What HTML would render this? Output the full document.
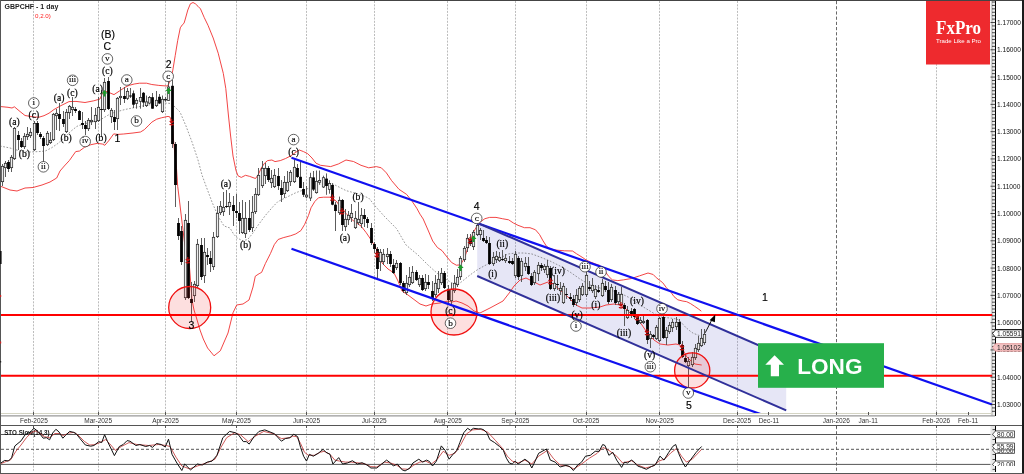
<!DOCTYPE html>
<html><head><meta charset="utf-8"><title>GBPCHF - 1 day</title>
<style>html,body{margin:0;padding:0;background:#fff;}body{width:1024px;height:474px;overflow:hidden;}svg{display:block;will-change:transform;}</style>
</head><body>
<svg width="1024" height="474" viewBox="0 0 1024 474">
<rect x="0" y="0" width="1024" height="474" fill="#fff"/>
<defs><clipPath id="cm"><rect x="1" y="1" width="991.4" height="412"/></clipPath><clipPath id="cs"><rect x="1" y="426" width="994" height="46"/></clipPath><clipPath id="cl"><rect x="990" y="426" width="34" height="40"/></clipPath></defs>
<line x1="33.5" y1="1" x2="33.5" y2="413" stroke="#bcbcbc" stroke-dasharray="2,1.3" stroke-width="1"/>
<line x1="33.5" y1="426" x2="33.5" y2="472" stroke="#bcbcbc" stroke-dasharray="2,1.3" stroke-width="1"/>
<line x1="98.5" y1="1" x2="98.5" y2="413" stroke="#bcbcbc" stroke-dasharray="2,1.3" stroke-width="1"/>
<line x1="98.5" y1="426" x2="98.5" y2="472" stroke="#bcbcbc" stroke-dasharray="2,1.3" stroke-width="1"/>
<line x1="165.5" y1="1" x2="165.5" y2="413" stroke="#bcbcbc" stroke-dasharray="2,1.3" stroke-width="1"/>
<line x1="165.5" y1="426" x2="165.5" y2="472" stroke="#bcbcbc" stroke-dasharray="2,1.3" stroke-width="1"/>
<line x1="236.5" y1="1" x2="236.5" y2="413" stroke="#bcbcbc" stroke-dasharray="2,1.3" stroke-width="1"/>
<line x1="236.5" y1="426" x2="236.5" y2="472" stroke="#bcbcbc" stroke-dasharray="2,1.3" stroke-width="1"/>
<line x1="306.5" y1="1" x2="306.5" y2="413" stroke="#bcbcbc" stroke-dasharray="2,1.3" stroke-width="1"/>
<line x1="306.5" y1="426" x2="306.5" y2="472" stroke="#bcbcbc" stroke-dasharray="2,1.3" stroke-width="1"/>
<line x1="374.5" y1="1" x2="374.5" y2="413" stroke="#bcbcbc" stroke-dasharray="2,1.3" stroke-width="1"/>
<line x1="374.5" y1="426" x2="374.5" y2="472" stroke="#bcbcbc" stroke-dasharray="2,1.3" stroke-width="1"/>
<line x1="447.5" y1="1" x2="447.5" y2="413" stroke="#bcbcbc" stroke-dasharray="2,1.3" stroke-width="1"/>
<line x1="447.5" y1="426" x2="447.5" y2="472" stroke="#bcbcbc" stroke-dasharray="2,1.3" stroke-width="1"/>
<line x1="515.5" y1="1" x2="515.5" y2="413" stroke="#bcbcbc" stroke-dasharray="2,1.3" stroke-width="1"/>
<line x1="515.5" y1="426" x2="515.5" y2="472" stroke="#bcbcbc" stroke-dasharray="2,1.3" stroke-width="1"/>
<line x1="586.5" y1="1" x2="586.5" y2="413" stroke="#bcbcbc" stroke-dasharray="2,1.3" stroke-width="1"/>
<line x1="586.5" y1="426" x2="586.5" y2="472" stroke="#bcbcbc" stroke-dasharray="2,1.3" stroke-width="1"/>
<line x1="659.5" y1="1" x2="659.5" y2="413" stroke="#bcbcbc" stroke-dasharray="2,1.3" stroke-width="1"/>
<line x1="659.5" y1="426" x2="659.5" y2="472" stroke="#bcbcbc" stroke-dasharray="2,1.3" stroke-width="1"/>
<line x1="737.5" y1="1" x2="737.5" y2="413" stroke="#bcbcbc" stroke-dasharray="2,1.3" stroke-width="1"/>
<line x1="737.5" y1="426" x2="737.5" y2="472" stroke="#bcbcbc" stroke-dasharray="2,1.3" stroke-width="1"/>
<line x1="836.5" y1="1" x2="836.5" y2="413" stroke="#6a6a6a" stroke-dasharray="3.2,2" stroke-width="1"/>
<line x1="836.5" y1="426" x2="836.5" y2="472" stroke="#6a6a6a" stroke-dasharray="3.2,2" stroke-width="1"/>
<line x1="936.5" y1="1" x2="936.5" y2="413" stroke="#bcbcbc" stroke-dasharray="2,1.3" stroke-width="1"/>
<line x1="936.5" y1="426" x2="936.5" y2="472" stroke="#bcbcbc" stroke-dasharray="2,1.3" stroke-width="1"/>
<rect x="990.5" y="1" width="4.5" height="415" fill="#f0f0f0"/>
<line x1="992" y1="1" x2="992" y2="416" stroke="#999" stroke-width="0.8"/>
<g clip-path="url(#cm)">
<polygon points="477.2,222.8 786.2,357.2 786.2,410.4 477.2,276.0" fill="rgba(100,100,200,0.16)"/>
<polyline points="0.0,106.5 8.0,107.3 12.0,108.0 14.4,106.8 20.0,111.5 25.0,115.5 34.0,117.0 39.0,117.2 44.0,115.7 49.0,113.2 54.0,109.5 61.0,105.6 69.0,101.6 76.0,101.4 85.0,102.5 93.8,100.8 100.0,99.0 102.6,92.8 105.2,91.1 108.7,92.4 114.0,94.6 119.3,91.1 124.5,87.6 129.0,85.4 134.2,84.0 139.5,83.2 146.5,83.2 151.8,84.5 158.8,85.4 164.0,85.8 167.6,86.0 170.0,81.0 172.7,70.9 175.2,55.7 177.7,40.5 180.3,27.8 182.3,24.8 184.0,23.3 185.3,19.0 187.8,10.0 190.4,3.8 193.0,2.5 195.4,3.8 198.0,6.3 200.5,8.9 204.3,17.7 208.0,25.3 213.2,38.0 218.2,53.2 223.3,73.4 225.8,88.6 228.4,115.0 230.5,135.0 233.0,156.0 236.0,170.6 238.1,175.9 241.3,177.4 245.5,175.3 249.7,176.4 255.5,178.5 258.2,174.8 261.3,168.0 264.5,163.2 267.6,160.6 271.9,160.0 275.0,161.6 280.3,160.6 285.6,158.5 290.9,155.8 295.1,152.7 299.3,150.0 303.5,151.6 307.7,153.7 312.0,158.0 316.0,163.2 320.6,165.3 330.7,166.6 338.3,164.0 346.0,160.0 353.5,161.5 361.0,165.3 368.7,167.8 376.3,166.6 381.3,167.8 386.4,172.9 391.5,180.5 399.0,189.3 406.6,194.4 411.7,200.7 416.8,208.3 420.0,214.2 423.2,219.0 428.0,230.0 432.7,241.0 437.4,247.5 442.0,250.6 447.0,257.0 451.6,262.5 456.4,265.2 460.3,264.9 464.3,258.5 467.5,249.0 470.6,239.6 473.8,231.6 477.0,226.0 481.0,221.4 484.9,218.7 489.6,217.4 496.0,217.4 502.3,218.7 508.6,219.8 513.4,223.0 518.0,225.3 524.4,227.7 530.0,227.7 535.5,229.8 539.6,234.6 543.0,240.8 546.5,246.3 550.6,249.0 556.0,250.1 564.3,250.8 572.5,251.0 576.6,253.8 582.1,257.2 586.2,260.0 590.4,262.0 595.8,264.1 600.0,265.5 604.0,269.6 608.2,275.8 612.3,279.9 617.8,280.6 623.3,279.9 631.5,278.5 639.7,275.8 648.0,273.0 653.2,274.5 656.3,277.7 659.5,280.2 662.7,282.7 666.5,287.8 670.9,292.2 674.0,296.6 677.8,299.8 682.9,301.1 686.7,301.7 690.5,303.6 694.3,306.1 698.1,308.7 701.3,311.2" fill="none" stroke="#f03030" stroke-width="0.9"/>
<polyline points="0.0,186.0 5.0,188.0 10.0,190.0 17.0,191.0 25.0,188.0 33.0,187.5 42.0,185.0 50.0,182.0 56.7,178.0 60.0,171.0 64.3,166.0 69.4,160.5 75.7,151.6 79.5,151.0 84.6,147.2 90.9,144.7 97.2,143.4 102.3,144.0 104.8,145.3 108.6,140.9 113.7,133.9 117.8,134.4 123.5,134.0 133.0,133.0 140.5,132.0 144.3,129.7 148.1,125.9 151.9,122.1 156.7,119.2 161.4,117.8 168.0,116.4 170.0,117.0 170.8,120.0 171.4,124.3 172.7,130.6 174.0,145.8 175.2,156.0 176.5,168.6 177.7,186.3 179.4,200.0 182.0,222.0 184.7,244.0 187.0,254.0 189.0,261.0 190.5,280.0 192.0,300.0 194.0,310.0 196.5,318.0 200.0,330.0 203.3,339.0 207.6,348.0 214.0,355.8 220.3,350.8 228.0,333.0 233.0,312.8 236.7,305.0 243.0,304.0 249.0,300.0 253.0,287.0 255.3,276.2 259.1,273.7 261.6,272.4 265.4,263.5 270.5,253.4 274.3,244.6 278.1,239.5 283.2,237.7 290.8,235.7 295.8,233.9 300.9,230.6 304.7,224.3 308.5,215.4 311.0,207.8 314.8,201.5 318.6,197.7 323.7,197.2 330.0,197.2 335.8,200.7 340.8,207.0 346.0,213.4 353.5,221.0 361.0,226.0 366.0,232.4 371.2,240.0 376.3,248.8 381.3,257.7 382.0,263.0 388.0,269.0 394.0,273.0 398.0,281.0 402.0,291.0 408.0,295.0 416.0,301.0 420.0,304.0 426.0,306.0 432.0,304.0 440.0,303.0 448.0,301.0 452.0,302.0 456.0,301.0 462.0,303.0 468.0,306.0 474.0,311.0 480.0,313.0 490.0,308.0 503.0,301.0 510.0,292.0 514.0,286.0 520.0,280.0 526.0,278.0 534.0,282.0 540.0,285.0 548.0,282.0 552.0,283.0 560.0,290.0 568.0,297.0 576.0,305.0 582.0,308.0 590.0,308.0 600.0,307.0 606.0,305.0 614.0,304.0 620.0,305.0 626.0,309.0 630.0,313.0 636.0,317.0 642.0,325.0 648.0,334.0 654.0,340.0 660.0,344.0 668.0,345.0 676.0,344.0 680.0,345.0 683.0,350.0 686.7,356.7 690.0,360.0 695.0,364.0 701.7,365.0" fill="none" stroke="#f03030" stroke-width="0.9"/>
<polyline points="0.0,146.0 10.0,148.0 20.0,151.0 30.0,152.0 40.0,151.5 45.3,151.0 51.6,147.8 58.0,143.4 64.3,137.7 70.6,131.4 77.0,126.3 82.0,124.4 92.0,122.0 100.0,120.0 104.5,117.3 109.2,114.5 114.0,112.6 118.7,111.2 125.0,109.5 135.0,107.5 145.0,105.5 155.0,104.0 165.0,103.0 171.0,103.5 175.0,107.0 180.0,112.0 186.0,126.0 192.0,142.0 198.0,160.0 202.0,175.0 206.0,186.0 212.0,202.0 218.0,216.0 224.0,226.0 230.0,228.0 233.8,234.4 237.6,238.2 242.7,240.8 247.7,239.5 252.8,233.2 257.8,225.6 265.4,215.4 273.0,206.6 278.0,201.5 285.7,197.7 295.8,192.7 303.4,190.0 311.0,187.6 318.6,185.0 320.6,184.0 333.0,184.0 346.0,190.6 358.6,194.0 368.7,198.0 376.0,207.0 384.0,216.0 396.5,228.6 406.0,245.0 418.0,255.0 428.0,265.0 438.0,274.0 444.0,278.0 452.0,283.0 460.0,283.0 470.0,275.0 477.0,270.0 484.0,266.0 492.0,262.0 500.0,258.0 508.0,254.0 516.0,253.0 524.0,253.0 532.0,254.0 540.0,257.0 550.0,261.0 560.0,266.0 570.0,272.0 580.0,279.0 590.0,285.0 600.0,288.0 610.0,290.0 620.0,293.0 630.0,298.0 640.0,305.0 650.0,311.0 660.0,317.0 665.0,317.5 670.0,318.0 676.7,319.0 680.0,321.0 685.0,326.7 690.0,331.0 693.3,333.3 700.0,335.8" fill="none" stroke="#555" stroke-width="0.6" stroke-dasharray="1.7,1.6"/>
<line x1="2.5" y1="164.0" x2="2.5" y2="186.0" stroke="#4a4a4a" stroke-width="0.9"/>
<rect x="1.3" y="166.3" width="2.4" height="15.4" fill="#ececec" stroke="#222" stroke-width="0.7"/>
<line x1="5.5" y1="161.0" x2="5.5" y2="177.0" stroke="#4a4a4a" stroke-width="0.9"/>
<rect x="4.3" y="163.3" width="2.4" height="4.4" fill="#ececec" stroke="#222" stroke-width="0.7"/>
<line x1="8.5" y1="160.0" x2="8.5" y2="172.0" stroke="#4a4a4a" stroke-width="0.9"/>
<rect x="7.1" y="162.0" width="2.8" height="7.0" fill="#000"/>
<line x1="11.5" y1="155.0" x2="11.5" y2="172.0" stroke="#4a4a4a" stroke-width="0.9"/>
<rect x="10.3" y="157.3" width="2.4" height="10.4" fill="#ececec" stroke="#222" stroke-width="0.7"/>
<line x1="14.5" y1="127.0" x2="14.5" y2="160.0" stroke="#4a4a4a" stroke-width="0.9"/>
<rect x="13.3" y="128.3" width="2.4" height="30.4" fill="#ececec" stroke="#222" stroke-width="0.7"/>
<line x1="18.5" y1="131.0" x2="18.5" y2="150.0" stroke="#4a4a4a" stroke-width="0.9"/>
<rect x="17.1" y="135.0" width="2.8" height="5.0" fill="#000"/>
<line x1="21.5" y1="138.0" x2="21.5" y2="148.0" stroke="#4a4a4a" stroke-width="0.9"/>
<rect x="20.1" y="141.0" width="2.8" height="6.0" fill="#000"/>
<line x1="24.5" y1="133.0" x2="24.5" y2="149.0" stroke="#4a4a4a" stroke-width="0.9"/>
<rect x="23.3" y="136.3" width="2.4" height="10.4" fill="#ececec" stroke="#222" stroke-width="0.7"/>
<line x1="27.5" y1="127.0" x2="27.5" y2="140.0" stroke="#4a4a4a" stroke-width="0.9"/>
<rect x="26.3" y="134.3" width="2.4" height="2.4" fill="#ececec" stroke="#222" stroke-width="0.7"/>
<line x1="30.5" y1="128.0" x2="30.5" y2="138.0" stroke="#4a4a4a" stroke-width="0.9"/>
<rect x="29.3" y="132.3" width="2.4" height="3.4" fill="#ececec" stroke="#222" stroke-width="0.7"/>
<line x1="34.5" y1="121.0" x2="34.5" y2="151.0" stroke="#4a4a4a" stroke-width="0.9"/>
<rect x="33.3" y="123.3" width="2.4" height="26.4" fill="#ececec" stroke="#222" stroke-width="0.7"/>
<line x1="37.5" y1="121.0" x2="37.5" y2="135.0" stroke="#4a4a4a" stroke-width="0.9"/>
<rect x="36.1" y="123.0" width="2.8" height="10.0" fill="#000"/>
<line x1="40.5" y1="132.0" x2="40.5" y2="139.0" stroke="#4a4a4a" stroke-width="0.9"/>
<rect x="39.1" y="134.0" width="2.8" height="3.0" fill="#000"/>
<line x1="43.5" y1="136.0" x2="43.5" y2="163.0" stroke="#4a4a4a" stroke-width="0.9"/>
<rect x="42.1" y="138.0" width="2.8" height="8.0" fill="#000"/>
<line x1="47.5" y1="131.0" x2="47.5" y2="146.0" stroke="#4a4a4a" stroke-width="0.9"/>
<rect x="46.3" y="133.3" width="2.4" height="11.4" fill="#ececec" stroke="#222" stroke-width="0.7"/>
<line x1="50.5" y1="132.0" x2="50.5" y2="144.0" stroke="#4a4a4a" stroke-width="0.9"/>
<rect x="49.3" y="140.3" width="2.4" height="2.4" fill="#ececec" stroke="#222" stroke-width="0.7"/>
<line x1="53.5" y1="113.0" x2="53.5" y2="141.0" stroke="#4a4a4a" stroke-width="0.9"/>
<rect x="52.3" y="114.3" width="2.4" height="25.4" fill="#ececec" stroke="#222" stroke-width="0.7"/>
<line x1="56.5" y1="109.0" x2="56.5" y2="130.0" stroke="#4a4a4a" stroke-width="0.9"/>
<rect x="55.3" y="113.3" width="2.4" height="2.4" fill="#ececec" stroke="#222" stroke-width="0.7"/>
<line x1="59.5" y1="103.0" x2="59.5" y2="131.0" stroke="#4a4a4a" stroke-width="0.9"/>
<rect x="58.1" y="114.0" width="2.8" height="5.0" fill="#000"/>
<line x1="63.5" y1="111.0" x2="63.5" y2="127.0" stroke="#4a4a4a" stroke-width="0.9"/>
<rect x="62.1" y="119.0" width="2.8" height="5.0" fill="#000"/>
<line x1="66.5" y1="109.0" x2="66.5" y2="133.0" stroke="#4a4a4a" stroke-width="0.9"/>
<rect x="65.3" y="112.3" width="2.4" height="19.4" fill="#ececec" stroke="#222" stroke-width="0.7"/>
<line x1="69.5" y1="105.0" x2="69.5" y2="119.0" stroke="#4a4a4a" stroke-width="0.9"/>
<rect x="68.3" y="106.3" width="2.4" height="6.4" fill="#ececec" stroke="#222" stroke-width="0.7"/>
<line x1="72.5" y1="97.0" x2="72.5" y2="116.0" stroke="#4a4a4a" stroke-width="0.9"/>
<rect x="71.3" y="107.3" width="2.4" height="2.4" fill="#ececec" stroke="#222" stroke-width="0.7"/>
<line x1="75.5" y1="107.0" x2="75.5" y2="113.0" stroke="#4a4a4a" stroke-width="0.9"/>
<rect x="74.1" y="109.0" width="2.8" height="2.0" fill="#000"/>
<line x1="79.5" y1="110.0" x2="79.5" y2="120.0" stroke="#4a4a4a" stroke-width="0.9"/>
<rect x="78.1" y="111.0" width="2.8" height="9.0" fill="#000"/>
<line x1="82.5" y1="112.0" x2="82.5" y2="129.0" stroke="#4a4a4a" stroke-width="0.9"/>
<rect x="81.1" y="123.0" width="2.8" height="2.0" fill="#000"/>
<line x1="85.5" y1="121.0" x2="85.5" y2="135.0" stroke="#4a4a4a" stroke-width="0.9"/>
<rect x="84.1" y="125.0" width="2.8" height="4.0" fill="#000"/>
<line x1="88.5" y1="118.0" x2="88.5" y2="131.0" stroke="#4a4a4a" stroke-width="0.9"/>
<rect x="87.3" y="120.3" width="2.4" height="8.4" fill="#ececec" stroke="#222" stroke-width="0.7"/>
<line x1="91.5" y1="107.0" x2="91.5" y2="125.0" stroke="#4a4a4a" stroke-width="0.9"/>
<rect x="90.3" y="120.3" width="2.4" height="1.4" fill="#ececec" stroke="#222" stroke-width="0.7"/>
<line x1="95.5" y1="108.0" x2="95.5" y2="129.0" stroke="#4a4a4a" stroke-width="0.9"/>
<rect x="94.3" y="115.3" width="2.4" height="6.4" fill="#ececec" stroke="#222" stroke-width="0.7"/>
<line x1="98.5" y1="97.0" x2="98.5" y2="122.0" stroke="#4a4a4a" stroke-width="0.9"/>
<rect x="97.3" y="107.3" width="2.4" height="13.4" fill="#ececec" stroke="#222" stroke-width="0.7"/>
<line x1="101.5" y1="90.0" x2="101.5" y2="137.0" stroke="#4a4a4a" stroke-width="0.9"/>
<rect x="100.1" y="109.0" width="2.8" height="1.0" fill="#000"/>
<line x1="104.5" y1="78.0" x2="104.5" y2="112.0" stroke="#4a4a4a" stroke-width="0.9"/>
<rect x="103.3" y="82.3" width="2.4" height="27.4" fill="#ececec" stroke="#222" stroke-width="0.7"/>
<line x1="108.5" y1="77.0" x2="108.5" y2="110.0" stroke="#4a4a4a" stroke-width="0.9"/>
<rect x="107.1" y="81.0" width="2.8" height="28.0" fill="#000"/>
<line x1="111.5" y1="108.0" x2="111.5" y2="123.0" stroke="#4a4a4a" stroke-width="0.9"/>
<rect x="110.3" y="110.3" width="2.4" height="6.4" fill="#ececec" stroke="#222" stroke-width="0.7"/>
<line x1="114.5" y1="110.0" x2="114.5" y2="130.0" stroke="#4a4a4a" stroke-width="0.9"/>
<rect x="113.1" y="117.0" width="2.8" height="5.0" fill="#000"/>
<line x1="117.5" y1="97.0" x2="117.5" y2="130.0" stroke="#4a4a4a" stroke-width="0.9"/>
<rect x="116.3" y="98.3" width="2.4" height="20.4" fill="#ececec" stroke="#222" stroke-width="0.7"/>
<line x1="120.5" y1="87.0" x2="120.5" y2="105.0" stroke="#4a4a4a" stroke-width="0.9"/>
<rect x="119.3" y="96.3" width="2.4" height="1.4" fill="#ececec" stroke="#222" stroke-width="0.7"/>
<line x1="124.5" y1="87.0" x2="124.5" y2="103.0" stroke="#4a4a4a" stroke-width="0.9"/>
<rect x="123.1" y="96.0" width="2.8" height="3.0" fill="#000"/>
<line x1="127.5" y1="88.0" x2="127.5" y2="100.0" stroke="#4a4a4a" stroke-width="0.9"/>
<rect x="126.3" y="91.3" width="2.4" height="6.999999999999995" fill="#ececec" stroke="#222" stroke-width="0.7"/>
<line x1="130.5" y1="88.0" x2="130.5" y2="98.0" stroke="#4a4a4a" stroke-width="0.9"/>
<rect x="129.1" y="95.5" width="2.8" height="1.0" fill="#000"/>
<line x1="133.5" y1="90.5" x2="133.5" y2="108.0" stroke="#4a4a4a" stroke-width="0.9"/>
<rect x="132.1" y="93.3" width="2.8" height="11.400000000000006" fill="#000"/>
<line x1="136.5" y1="98.0" x2="136.5" y2="108.7" stroke="#4a4a4a" stroke-width="0.9"/>
<rect x="135.3" y="100.3" width="2.4" height="3.199999999999997" fill="#ececec" stroke="#222" stroke-width="0.7"/>
<line x1="140.5" y1="88.0" x2="140.5" y2="108.7" stroke="#4a4a4a" stroke-width="0.9"/>
<rect x="139.3" y="97.5" width="2.4" height="3.7999999999999914" fill="#ececec" stroke="#222" stroke-width="0.7"/>
<line x1="143.5" y1="92.0" x2="143.5" y2="107.0" stroke="#4a4a4a" stroke-width="0.9"/>
<rect x="142.1" y="92.8" width="2.8" height="9.700000000000003" fill="#000"/>
<line x1="146.5" y1="95.5" x2="146.5" y2="107.0" stroke="#4a4a4a" stroke-width="0.9"/>
<rect x="145.3" y="101.89999999999999" width="2.4" height="3.8000000000000056" fill="#ececec" stroke="#222" stroke-width="0.7"/>
<line x1="149.5" y1="96.0" x2="149.5" y2="104.0" stroke="#4a4a4a" stroke-width="0.9"/>
<rect x="148.3" y="97.5" width="2.4" height="5.600000000000003" fill="#ececec" stroke="#222" stroke-width="0.7"/>
<line x1="152.5" y1="93.0" x2="152.5" y2="108.7" stroke="#4a4a4a" stroke-width="0.9"/>
<rect x="151.1" y="97.2" width="2.8" height="11.5" fill="#000"/>
<line x1="156.5" y1="91.0" x2="156.5" y2="107.0" stroke="#4a4a4a" stroke-width="0.9"/>
<rect x="155.3" y="100.3" width="2.4" height="5.4" fill="#ececec" stroke="#222" stroke-width="0.7"/>
<line x1="159.5" y1="94.0" x2="159.5" y2="104.0" stroke="#4a4a4a" stroke-width="0.9"/>
<rect x="158.1" y="96.8" width="2.8" height="6.6000000000000085" fill="#000"/>
<line x1="162.5" y1="95.5" x2="162.5" y2="113.0" stroke="#4a4a4a" stroke-width="0.9"/>
<rect x="161.3" y="99.3" width="2.4" height="12.4" fill="#ececec" stroke="#222" stroke-width="0.7"/>
<line x1="165.5" y1="97.0" x2="165.5" y2="101.6" stroke="#4a4a4a" stroke-width="0.9"/>
<rect x="164.3" y="99.3" width="2.4" height="0.6999999999999972" fill="#ececec" stroke="#222" stroke-width="0.7"/>
<line x1="168.5" y1="80.5" x2="168.5" y2="101.0" stroke="#4a4a4a" stroke-width="0.9"/>
<rect x="167.3" y="87.0" width="2.4" height="13.499999999999995" fill="#ececec" stroke="#222" stroke-width="0.7"/>
<line x1="172.5" y1="80.0" x2="172.5" y2="148.0" stroke="#4a4a4a" stroke-width="0.9"/>
<rect x="171.1" y="85.8" width="2.8" height="58.2" fill="#000"/>
<line x1="175.5" y1="142.0" x2="175.5" y2="207.0" stroke="#4a4a4a" stroke-width="0.9"/>
<rect x="174.1" y="144.0" width="2.8" height="41.0" fill="#000"/>
<line x1="178.5" y1="218.0" x2="178.5" y2="240.0" stroke="#4a4a4a" stroke-width="0.9"/>
<rect x="177.1" y="223.0" width="2.8" height="13.0" fill="#000"/>
<line x1="181.5" y1="226.0" x2="181.5" y2="265.0" stroke="#4a4a4a" stroke-width="0.9"/>
<rect x="180.1" y="231.0" width="2.8" height="31.0" fill="#000"/>
<line x1="185.5" y1="214.0" x2="185.5" y2="300.0" stroke="#4a4a4a" stroke-width="0.9"/>
<rect x="184.3" y="220.3" width="2.4" height="77.4" fill="#ececec" stroke="#222" stroke-width="0.7"/>
<line x1="188.5" y1="201.0" x2="188.5" y2="299.0" stroke="#4a4a4a" stroke-width="0.9"/>
<rect x="187.1" y="223.0" width="2.8" height="75.0" fill="#000"/>
<line x1="191.5" y1="282.0" x2="191.5" y2="322.0" stroke="#4a4a4a" stroke-width="0.9"/>
<rect x="190.1" y="299.0" width="2.8" height="4.0" fill="#000"/>
<line x1="194.5" y1="281.0" x2="194.5" y2="302.0" stroke="#4a4a4a" stroke-width="0.9"/>
<rect x="193.3" y="284.3" width="2.4" height="11.4" fill="#ececec" stroke="#222" stroke-width="0.7"/>
<line x1="197.5" y1="239.0" x2="197.5" y2="288.0" stroke="#4a4a4a" stroke-width="0.9"/>
<rect x="196.3" y="244.3" width="2.4" height="41.4" fill="#ececec" stroke="#222" stroke-width="0.7"/>
<line x1="201.5" y1="238.0" x2="201.5" y2="280.0" stroke="#4a4a4a" stroke-width="0.9"/>
<rect x="200.1" y="245.0" width="2.8" height="32.0" fill="#000"/>
<line x1="204.5" y1="238.0" x2="204.5" y2="283.0" stroke="#4a4a4a" stroke-width="0.9"/>
<rect x="203.3" y="252.3" width="2.4" height="23.4" fill="#ececec" stroke="#222" stroke-width="0.7"/>
<line x1="207.5" y1="248.0" x2="207.5" y2="265.0" stroke="#4a4a4a" stroke-width="0.9"/>
<rect x="206.1" y="255.0" width="2.8" height="2.0" fill="#000"/>
<line x1="210.5" y1="251.0" x2="210.5" y2="272.0" stroke="#4a4a4a" stroke-width="0.9"/>
<rect x="209.1" y="258.0" width="2.8" height="6.0" fill="#000"/>
<line x1="213.5" y1="232.0" x2="213.5" y2="270.0" stroke="#4a4a4a" stroke-width="0.9"/>
<rect x="212.3" y="237.3" width="2.4" height="29.4" fill="#ececec" stroke="#222" stroke-width="0.7"/>
<line x1="217.5" y1="206.0" x2="217.5" y2="238.0" stroke="#4a4a4a" stroke-width="0.9"/>
<rect x="216.3" y="213.3" width="2.4" height="23.4" fill="#ececec" stroke="#222" stroke-width="0.7"/>
<line x1="220.5" y1="201.0" x2="220.5" y2="215.0" stroke="#4a4a4a" stroke-width="0.9"/>
<rect x="219.3" y="206.3" width="2.4" height="6.4" fill="#ececec" stroke="#222" stroke-width="0.7"/>
<line x1="223.5" y1="192.0" x2="223.5" y2="216.0" stroke="#4a4a4a" stroke-width="0.9"/>
<rect x="222.3" y="207.3" width="2.4" height="4.4" fill="#ececec" stroke="#222" stroke-width="0.7"/>
<line x1="226.5" y1="190.0" x2="226.5" y2="208.0" stroke="#4a4a4a" stroke-width="0.9"/>
<rect x="225.1" y="206.0" width="2.8" height="1.0" fill="#000"/>
<line x1="229.5" y1="193.0" x2="229.5" y2="215.0" stroke="#4a4a4a" stroke-width="0.9"/>
<rect x="228.3" y="202.3" width="2.4" height="4.4" fill="#ececec" stroke="#222" stroke-width="0.7"/>
<line x1="233.5" y1="196.0" x2="233.5" y2="226.0" stroke="#4a4a4a" stroke-width="0.9"/>
<rect x="232.1" y="205.0" width="2.8" height="6.0" fill="#000"/>
<line x1="236.5" y1="194.0" x2="236.5" y2="218.0" stroke="#4a4a4a" stroke-width="0.9"/>
<rect x="235.1" y="211.0" width="2.8" height="2.0" fill="#000"/>
<line x1="239.5" y1="202.0" x2="239.5" y2="234.0" stroke="#4a4a4a" stroke-width="0.9"/>
<rect x="238.1" y="213.0" width="2.8" height="8.0" fill="#000"/>
<line x1="242.5" y1="200.0" x2="242.5" y2="234.0" stroke="#4a4a4a" stroke-width="0.9"/>
<rect x="241.3" y="218.3" width="2.4" height="14.4" fill="#ececec" stroke="#222" stroke-width="0.7"/>
<line x1="245.5" y1="202.0" x2="245.5" y2="238.0" stroke="#4a4a4a" stroke-width="0.9"/>
<rect x="244.3" y="218.3" width="2.4" height="15.4" fill="#ececec" stroke="#222" stroke-width="0.7"/>
<line x1="249.5" y1="200.0" x2="249.5" y2="232.0" stroke="#4a4a4a" stroke-width="0.9"/>
<rect x="248.1" y="218.0" width="2.8" height="12.0" fill="#000"/>
<line x1="252.5" y1="196.0" x2="252.5" y2="232.0" stroke="#4a4a4a" stroke-width="0.9"/>
<rect x="251.3" y="212.3" width="2.4" height="15.4" fill="#ececec" stroke="#222" stroke-width="0.7"/>
<line x1="255.5" y1="188.0" x2="255.5" y2="214.0" stroke="#4a4a4a" stroke-width="0.9"/>
<rect x="254.3" y="194.3" width="2.4" height="17.4" fill="#ececec" stroke="#222" stroke-width="0.7"/>
<line x1="258.5" y1="168.0" x2="258.5" y2="196.0" stroke="#4a4a4a" stroke-width="0.9"/>
<rect x="257.3" y="175.3" width="2.4" height="19.4" fill="#ececec" stroke="#222" stroke-width="0.7"/>
<line x1="262.5" y1="161.0" x2="262.5" y2="188.0" stroke="#4a4a4a" stroke-width="0.9"/>
<rect x="261.3" y="168.3" width="2.4" height="17.4" fill="#ececec" stroke="#222" stroke-width="0.7"/>
<line x1="265.5" y1="163.0" x2="265.5" y2="184.0" stroke="#4a4a4a" stroke-width="0.9"/>
<rect x="264.3" y="168.3" width="2.4" height="7.4" fill="#ececec" stroke="#222" stroke-width="0.7"/>
<line x1="268.5" y1="166.0" x2="268.5" y2="182.0" stroke="#4a4a4a" stroke-width="0.9"/>
<rect x="267.1" y="168.0" width="2.8" height="12.0" fill="#000"/>
<line x1="271.5" y1="170.0" x2="271.5" y2="188.0" stroke="#4a4a4a" stroke-width="0.9"/>
<rect x="270.3" y="178.3" width="2.4" height="4.4" fill="#ececec" stroke="#222" stroke-width="0.7"/>
<line x1="274.5" y1="169.0" x2="274.5" y2="188.0" stroke="#4a4a4a" stroke-width="0.9"/>
<rect x="273.3" y="175.3" width="2.4" height="11.4" fill="#ececec" stroke="#222" stroke-width="0.7"/>
<line x1="278.5" y1="168.0" x2="278.5" y2="190.0" stroke="#4a4a4a" stroke-width="0.9"/>
<rect x="277.1" y="176.0" width="2.8" height="10.0" fill="#000"/>
<line x1="281.5" y1="180.0" x2="281.5" y2="202.0" stroke="#4a4a4a" stroke-width="0.9"/>
<rect x="280.1" y="188.0" width="2.8" height="7.0" fill="#000"/>
<line x1="284.5" y1="176.0" x2="284.5" y2="198.0" stroke="#4a4a4a" stroke-width="0.9"/>
<rect x="283.3" y="182.3" width="2.4" height="11.4" fill="#ececec" stroke="#222" stroke-width="0.7"/>
<line x1="287.5" y1="171.0" x2="287.5" y2="192.0" stroke="#4a4a4a" stroke-width="0.9"/>
<rect x="286.3" y="182.3" width="2.4" height="8.4" fill="#ececec" stroke="#222" stroke-width="0.7"/>
<line x1="290.5" y1="170.0" x2="290.5" y2="186.0" stroke="#4a4a4a" stroke-width="0.9"/>
<rect x="289.3" y="172.3" width="2.4" height="9.4" fill="#ececec" stroke="#222" stroke-width="0.7"/>
<line x1="294.5" y1="160.0" x2="294.5" y2="183.0" stroke="#4a4a4a" stroke-width="0.9"/>
<rect x="293.3" y="167.3" width="2.4" height="14.4" fill="#ececec" stroke="#222" stroke-width="0.7"/>
<line x1="297.5" y1="164.0" x2="297.5" y2="178.0" stroke="#4a4a4a" stroke-width="0.9"/>
<rect x="296.1" y="168.0" width="2.8" height="9.0" fill="#000"/>
<line x1="300.5" y1="161.7" x2="300.5" y2="188.0" stroke="#4a4a4a" stroke-width="0.9"/>
<rect x="299.1" y="176.8" width="2.8" height="11.199999999999989" fill="#000"/>
<line x1="303.5" y1="182.0" x2="303.5" y2="197.0" stroke="#4a4a4a" stroke-width="0.9"/>
<rect x="302.1" y="189.0" width="2.8" height="5.800000000000011" fill="#000"/>
<line x1="306.5" y1="186.0" x2="306.5" y2="198.3" stroke="#4a4a4a" stroke-width="0.9"/>
<rect x="305.3" y="195.10000000000002" width="2.4" height="1.7999999999999772" fill="#ececec" stroke="#222" stroke-width="0.7"/>
<line x1="310.5" y1="172.8" x2="310.5" y2="201.0" stroke="#4a4a4a" stroke-width="0.9"/>
<rect x="309.3" y="177.70000000000002" width="2.4" height="20.300000000000004" fill="#ececec" stroke="#222" stroke-width="0.7"/>
<line x1="313.5" y1="171.0" x2="313.5" y2="191.0" stroke="#4a4a4a" stroke-width="0.9"/>
<rect x="312.1" y="177.4" width="2.8" height="12.199999999999989" fill="#000"/>
<line x1="316.5" y1="170.5" x2="316.5" y2="193.7" stroke="#4a4a4a" stroke-width="0.9"/>
<rect x="315.3" y="181.3" width="2.4" height="11.4" fill="#ececec" stroke="#222" stroke-width="0.7"/>
<line x1="319.5" y1="170.5" x2="319.5" y2="184.4" stroke="#4a4a4a" stroke-width="0.9"/>
<rect x="318.3" y="180.60000000000002" width="2.4" height="1.6999999999999829" fill="#ececec" stroke="#222" stroke-width="0.7"/>
<line x1="323.5" y1="175.7" x2="323.5" y2="188.0" stroke="#4a4a4a" stroke-width="0.9"/>
<rect x="322.3" y="177.70000000000002" width="2.4" height="9.300000000000006" fill="#ececec" stroke="#222" stroke-width="0.7"/>
<line x1="326.5" y1="173.4" x2="326.5" y2="194.8" stroke="#4a4a4a" stroke-width="0.9"/>
<rect x="325.1" y="178.6" width="2.8" height="7.400000000000006" fill="#000"/>
<line x1="329.5" y1="180.3" x2="329.5" y2="193.7" stroke="#4a4a4a" stroke-width="0.9"/>
<rect x="328.3" y="183.5" width="2.4" height="5.800000000000006" fill="#ececec" stroke="#222" stroke-width="0.7"/>
<line x1="332.5" y1="183.2" x2="332.5" y2="205.3" stroke="#4a4a4a" stroke-width="0.9"/>
<rect x="331.1" y="185.0" width="2.8" height="19.69999999999999" fill="#000"/>
<line x1="335.5" y1="201.8" x2="335.5" y2="231.0" stroke="#4a4a4a" stroke-width="0.9"/>
<rect x="334.1" y="204.7" width="2.8" height="6.300000000000011" fill="#000"/>
<line x1="339.5" y1="196.6" x2="339.5" y2="215.0" stroke="#4a4a4a" stroke-width="0.9"/>
<rect x="338.3" y="200.3" width="2.4" height="12.4" fill="#ececec" stroke="#222" stroke-width="0.7"/>
<line x1="342.5" y1="199.0" x2="342.5" y2="231.0" stroke="#4a4a4a" stroke-width="0.9"/>
<rect x="341.1" y="200.0" width="2.8" height="25.0" fill="#000"/>
<line x1="345.5" y1="209.0" x2="345.5" y2="231.0" stroke="#4a4a4a" stroke-width="0.9"/>
<rect x="344.3" y="219.3" width="2.4" height="7.4" fill="#ececec" stroke="#222" stroke-width="0.7"/>
<line x1="348.5" y1="211.0" x2="348.5" y2="225.0" stroke="#4a4a4a" stroke-width="0.9"/>
<rect x="347.3" y="215.3" width="2.4" height="4.4" fill="#ececec" stroke="#222" stroke-width="0.7"/>
<line x1="351.5" y1="204.0" x2="351.5" y2="222.0" stroke="#4a4a4a" stroke-width="0.9"/>
<rect x="350.3" y="213.3" width="2.4" height="4.4" fill="#ececec" stroke="#222" stroke-width="0.7"/>
<line x1="355.5" y1="211.0" x2="355.5" y2="229.0" stroke="#4a4a4a" stroke-width="0.9"/>
<rect x="354.3" y="218.3" width="2.4" height="9.4" fill="#ececec" stroke="#222" stroke-width="0.7"/>
<line x1="358.5" y1="202.0" x2="358.5" y2="225.0" stroke="#4a4a4a" stroke-width="0.9"/>
<rect x="357.3" y="219.3" width="2.4" height="3.4" fill="#ececec" stroke="#222" stroke-width="0.7"/>
<line x1="361.5" y1="208.0" x2="361.5" y2="228.0" stroke="#4a4a4a" stroke-width="0.9"/>
<rect x="360.3" y="215.3" width="2.4" height="8.4" fill="#ececec" stroke="#222" stroke-width="0.7"/>
<line x1="364.5" y1="209.0" x2="364.5" y2="227.0" stroke="#4a4a4a" stroke-width="0.9"/>
<rect x="363.1" y="215.0" width="2.8" height="4.0" fill="#000"/>
<line x1="367.5" y1="217.0" x2="367.5" y2="228.0" stroke="#4a4a4a" stroke-width="0.9"/>
<rect x="366.1" y="219.0" width="2.8" height="4.0" fill="#000"/>
<line x1="371.5" y1="223.0" x2="371.5" y2="245.0" stroke="#4a4a4a" stroke-width="0.9"/>
<rect x="370.1" y="228.0" width="2.8" height="15.0" fill="#000"/>
<line x1="374.5" y1="242.0" x2="374.5" y2="253.0" stroke="#4a4a4a" stroke-width="0.9"/>
<rect x="373.1" y="244.0" width="2.8" height="5.0" fill="#000"/>
<line x1="377.5" y1="247.0" x2="377.5" y2="278.0" stroke="#4a4a4a" stroke-width="0.9"/>
<rect x="376.1" y="249.0" width="2.8" height="20.0" fill="#000"/>
<line x1="380.5" y1="249.0" x2="380.5" y2="271.0" stroke="#4a4a4a" stroke-width="0.9"/>
<rect x="379.3" y="252.3" width="2.4" height="9.4" fill="#ececec" stroke="#222" stroke-width="0.7"/>
<line x1="383.5" y1="249.0" x2="383.5" y2="265.0" stroke="#4a4a4a" stroke-width="0.9"/>
<rect x="382.3" y="254.3" width="2.4" height="7.4" fill="#ececec" stroke="#222" stroke-width="0.7"/>
<line x1="387.5" y1="248.0" x2="387.5" y2="264.0" stroke="#4a4a4a" stroke-width="0.9"/>
<rect x="386.3" y="254.3" width="2.4" height="2.4" fill="#ececec" stroke="#222" stroke-width="0.7"/>
<line x1="390.5" y1="251.0" x2="390.5" y2="267.0" stroke="#4a4a4a" stroke-width="0.9"/>
<rect x="389.1" y="254.0" width="2.8" height="10.0" fill="#000"/>
<line x1="393.5" y1="259.0" x2="393.5" y2="274.0" stroke="#4a4a4a" stroke-width="0.9"/>
<rect x="392.1" y="265.0" width="2.8" height="8.0" fill="#000"/>
<line x1="396.5" y1="260.0" x2="396.5" y2="270.0" stroke="#4a4a4a" stroke-width="0.9"/>
<rect x="395.3" y="263.3" width="2.4" height="4.4" fill="#ececec" stroke="#222" stroke-width="0.7"/>
<line x1="400.5" y1="262.0" x2="400.5" y2="285.0" stroke="#4a4a4a" stroke-width="0.9"/>
<rect x="399.1" y="263.0" width="2.8" height="20.0" fill="#000"/>
<line x1="403.5" y1="281.0" x2="403.5" y2="293.0" stroke="#4a4a4a" stroke-width="0.9"/>
<rect x="402.1" y="283.0" width="2.8" height="8.0" fill="#000"/>
<line x1="406.5" y1="275.0" x2="406.5" y2="295.0" stroke="#4a4a4a" stroke-width="0.9"/>
<rect x="405.3" y="283.3" width="2.4" height="9.4" fill="#ececec" stroke="#222" stroke-width="0.7"/>
<line x1="409.5" y1="267.0" x2="409.5" y2="287.0" stroke="#4a4a4a" stroke-width="0.9"/>
<rect x="408.3" y="277.3" width="2.4" height="7.4" fill="#ececec" stroke="#222" stroke-width="0.7"/>
<line x1="412.5" y1="266.0" x2="412.5" y2="284.0" stroke="#4a4a4a" stroke-width="0.9"/>
<rect x="411.3" y="272.3" width="2.4" height="10.4" fill="#ececec" stroke="#222" stroke-width="0.7"/>
<line x1="416.5" y1="270.0" x2="416.5" y2="281.0" stroke="#4a4a4a" stroke-width="0.9"/>
<rect x="415.1" y="272.0" width="2.8" height="8.0" fill="#000"/>
<line x1="419.5" y1="275.0" x2="419.5" y2="287.0" stroke="#4a4a4a" stroke-width="0.9"/>
<rect x="418.3" y="278.3" width="2.4" height="6.4" fill="#ececec" stroke="#222" stroke-width="0.7"/>
<line x1="422.5" y1="275.0" x2="422.5" y2="291.0" stroke="#4a4a4a" stroke-width="0.9"/>
<rect x="421.1" y="278.0" width="2.8" height="12.0" fill="#000"/>
<line x1="425.5" y1="274.0" x2="425.5" y2="291.0" stroke="#4a4a4a" stroke-width="0.9"/>
<rect x="424.3" y="282.3" width="2.4" height="6.4" fill="#ececec" stroke="#222" stroke-width="0.7"/>
<line x1="428.5" y1="275.0" x2="428.5" y2="289.0" stroke="#4a4a4a" stroke-width="0.9"/>
<rect x="427.1" y="282.0" width="2.8" height="3.0" fill="#000"/>
<line x1="432.5" y1="281.0" x2="432.5" y2="301.0" stroke="#4a4a4a" stroke-width="0.9"/>
<rect x="431.1" y="291.0" width="2.8" height="7.0" fill="#000"/>
<line x1="435.5" y1="275.0" x2="435.5" y2="297.0" stroke="#4a4a4a" stroke-width="0.9"/>
<rect x="434.3" y="283.3" width="2.4" height="11.4" fill="#ececec" stroke="#222" stroke-width="0.7"/>
<line x1="438.5" y1="271.0" x2="438.5" y2="293.0" stroke="#4a4a4a" stroke-width="0.9"/>
<rect x="437.3" y="279.3" width="2.4" height="9.4" fill="#ececec" stroke="#222" stroke-width="0.7"/>
<line x1="441.5" y1="268.0" x2="441.5" y2="285.0" stroke="#4a4a4a" stroke-width="0.9"/>
<rect x="440.3" y="273.3" width="2.4" height="9.4" fill="#ececec" stroke="#222" stroke-width="0.7"/>
<line x1="444.5" y1="271.0" x2="444.5" y2="289.0" stroke="#4a4a4a" stroke-width="0.9"/>
<rect x="443.1" y="273.0" width="2.8" height="15.0" fill="#000"/>
<line x1="448.5" y1="285.0" x2="448.5" y2="303.0" stroke="#4a4a4a" stroke-width="0.9"/>
<rect x="447.1" y="289.0" width="2.8" height="11.0" fill="#000"/>
<line x1="451.5" y1="283.0" x2="451.5" y2="304.0" stroke="#4a4a4a" stroke-width="0.9"/>
<rect x="450.3" y="289.3" width="2.4" height="11.4" fill="#ececec" stroke="#222" stroke-width="0.7"/>
<line x1="454.5" y1="275.0" x2="454.5" y2="293.0" stroke="#4a4a4a" stroke-width="0.9"/>
<rect x="453.3" y="283.3" width="2.4" height="7.4" fill="#ececec" stroke="#222" stroke-width="0.7"/>
<line x1="457.5" y1="269.0" x2="457.5" y2="287.0" stroke="#4a4a4a" stroke-width="0.9"/>
<rect x="456.3" y="277.3" width="2.4" height="7.4" fill="#ececec" stroke="#222" stroke-width="0.7"/>
<line x1="460.5" y1="256.0" x2="460.5" y2="280.0" stroke="#4a4a4a" stroke-width="0.9"/>
<rect x="459.3" y="258.3" width="2.4" height="18.4" fill="#ececec" stroke="#222" stroke-width="0.7"/>
<line x1="464.5" y1="246.0" x2="464.5" y2="262.0" stroke="#4a4a4a" stroke-width="0.9"/>
<rect x="463.3" y="248.3" width="2.4" height="11.4" fill="#ececec" stroke="#222" stroke-width="0.7"/>
<line x1="467.5" y1="234.0" x2="467.5" y2="252.0" stroke="#4a4a4a" stroke-width="0.9"/>
<rect x="466.3" y="238.3" width="2.4" height="9.4" fill="#ececec" stroke="#222" stroke-width="0.7"/>
<line x1="470.5" y1="234.0" x2="470.5" y2="246.0" stroke="#4a4a4a" stroke-width="0.9"/>
<rect x="469.1" y="239.0" width="2.8" height="5.0" fill="#000"/>
<line x1="473.5" y1="230.0" x2="473.5" y2="250.0" stroke="#4a4a4a" stroke-width="0.9"/>
<rect x="472.3" y="232.3" width="2.4" height="14.4" fill="#ececec" stroke="#222" stroke-width="0.7"/>
<line x1="477.5" y1="224.0" x2="477.5" y2="236.0" stroke="#4a4a4a" stroke-width="0.9"/>
<rect x="476.3" y="225.3" width="2.4" height="9.4" fill="#ececec" stroke="#222" stroke-width="0.7"/>
<line x1="480.5" y1="228.0" x2="480.5" y2="240.0" stroke="#4a4a4a" stroke-width="0.9"/>
<rect x="479.3" y="230.3" width="2.4" height="4.4" fill="#ececec" stroke="#222" stroke-width="0.7"/>
<line x1="483.5" y1="230.0" x2="483.5" y2="242.0" stroke="#4a4a4a" stroke-width="0.9"/>
<rect x="482.1" y="238.0" width="2.8" height="3.0" fill="#000"/>
<line x1="486.5" y1="236.0" x2="486.5" y2="244.0" stroke="#4a4a4a" stroke-width="0.9"/>
<rect x="485.1" y="240.0" width="2.8" height="3.0" fill="#000"/>
<line x1="489.5" y1="237.0" x2="489.5" y2="265.0" stroke="#4a4a4a" stroke-width="0.9"/>
<rect x="488.1" y="243.0" width="2.8" height="21.0" fill="#000"/>
<line x1="493.5" y1="252.0" x2="493.5" y2="266.0" stroke="#4a4a4a" stroke-width="0.9"/>
<rect x="492.3" y="257.3" width="2.4" height="6.4" fill="#ececec" stroke="#222" stroke-width="0.7"/>
<line x1="496.5" y1="251.0" x2="496.5" y2="263.0" stroke="#4a4a4a" stroke-width="0.9"/>
<rect x="495.3" y="256.3" width="2.4" height="3.4" fill="#ececec" stroke="#222" stroke-width="0.7"/>
<line x1="499.5" y1="252.0" x2="499.5" y2="262.0" stroke="#4a4a4a" stroke-width="0.9"/>
<rect x="498.3" y="257.3" width="2.4" height="3.4" fill="#ececec" stroke="#222" stroke-width="0.7"/>
<line x1="502.5" y1="250.0" x2="502.5" y2="261.0" stroke="#4a4a4a" stroke-width="0.9"/>
<rect x="501.1" y="259.0" width="2.8" height="1.0" fill="#000"/>
<line x1="505.5" y1="254.0" x2="505.5" y2="263.0" stroke="#4a4a4a" stroke-width="0.9"/>
<rect x="504.3" y="258.3" width="2.4" height="2.4" fill="#ececec" stroke="#222" stroke-width="0.7"/>
<line x1="509.5" y1="256.0" x2="509.5" y2="264.0" stroke="#4a4a4a" stroke-width="0.9"/>
<rect x="508.1" y="261.0" width="2.8" height="2.0" fill="#000"/>
<line x1="512.5" y1="258.0" x2="512.5" y2="265.0" stroke="#4a4a4a" stroke-width="0.9"/>
<rect x="511.1" y="261.0" width="2.8" height="3.0" fill="#000"/>
<line x1="515.5" y1="251.0" x2="515.5" y2="278.0" stroke="#4a4a4a" stroke-width="0.9"/>
<rect x="514.3" y="254.3" width="2.4" height="21.4" fill="#ececec" stroke="#222" stroke-width="0.7"/>
<line x1="518.5" y1="256.0" x2="518.5" y2="280.0" stroke="#4a4a4a" stroke-width="0.9"/>
<rect x="517.1" y="258.0" width="2.8" height="19.0" fill="#000"/>
<line x1="521.5" y1="258.0" x2="521.5" y2="282.0" stroke="#4a4a4a" stroke-width="0.9"/>
<rect x="520.3" y="261.3" width="2.4" height="14.4" fill="#ececec" stroke="#222" stroke-width="0.7"/>
<line x1="525.5" y1="257.0" x2="525.5" y2="271.0" stroke="#4a4a4a" stroke-width="0.9"/>
<rect x="524.3" y="263.3" width="2.4" height="3.4" fill="#ececec" stroke="#222" stroke-width="0.7"/>
<line x1="528.5" y1="257.0" x2="528.5" y2="275.0" stroke="#4a4a4a" stroke-width="0.9"/>
<rect x="527.1" y="266.0" width="2.8" height="8.0" fill="#000"/>
<line x1="531.5" y1="273.0" x2="531.5" y2="286.0" stroke="#4a4a4a" stroke-width="0.9"/>
<rect x="530.1" y="276.0" width="2.8" height="9.0" fill="#000"/>
<line x1="534.5" y1="270.0" x2="534.5" y2="285.0" stroke="#4a4a4a" stroke-width="0.9"/>
<rect x="533.3" y="272.3" width="2.4" height="10.4" fill="#ececec" stroke="#222" stroke-width="0.7"/>
<line x1="538.5" y1="262.0" x2="538.5" y2="281.0" stroke="#4a4a4a" stroke-width="0.9"/>
<rect x="537.3" y="265.3" width="2.4" height="8.4" fill="#ececec" stroke="#222" stroke-width="0.7"/>
<line x1="541.5" y1="263.0" x2="541.5" y2="271.0" stroke="#4a4a4a" stroke-width="0.9"/>
<rect x="540.1" y="265.0" width="2.8" height="3.0" fill="#000"/>
<line x1="544.5" y1="264.0" x2="544.5" y2="273.0" stroke="#4a4a4a" stroke-width="0.9"/>
<rect x="543.3" y="266.3" width="2.4" height="3.4" fill="#ececec" stroke="#222" stroke-width="0.7"/>
<line x1="547.5" y1="260.0" x2="547.5" y2="278.0" stroke="#4a4a4a" stroke-width="0.9"/>
<rect x="546.3" y="266.3" width="2.4" height="8.4" fill="#ececec" stroke="#222" stroke-width="0.7"/>
<line x1="550.5" y1="266.0" x2="550.5" y2="290.0" stroke="#4a4a4a" stroke-width="0.9"/>
<rect x="549.1" y="268.0" width="2.8" height="21.0" fill="#000"/>
<line x1="554.5" y1="275.0" x2="554.5" y2="291.0" stroke="#4a4a4a" stroke-width="0.9"/>
<rect x="553.3" y="283.3" width="2.4" height="5.4" fill="#ececec" stroke="#222" stroke-width="0.7"/>
<line x1="557.5" y1="275.0" x2="557.5" y2="290.0" stroke="#4a4a4a" stroke-width="0.9"/>
<rect x="556.1" y="284.0" width="2.8" height="1.0" fill="#000"/>
<line x1="560.5" y1="282.0" x2="560.5" y2="295.0" stroke="#4a4a4a" stroke-width="0.9"/>
<rect x="559.3" y="288.3" width="2.4" height="2.4" fill="#ececec" stroke="#222" stroke-width="0.7"/>
<line x1="563.5" y1="283.0" x2="563.5" y2="304.0" stroke="#4a4a4a" stroke-width="0.9"/>
<rect x="562.3" y="286.3" width="2.4" height="16.4" fill="#ececec" stroke="#222" stroke-width="0.7"/>
<line x1="566.5" y1="288.0" x2="566.5" y2="299.0" stroke="#4a4a4a" stroke-width="0.9"/>
<rect x="565.1" y="294.0" width="2.8" height="1.0" fill="#000"/>
<line x1="570.5" y1="293.0" x2="570.5" y2="301.0" stroke="#4a4a4a" stroke-width="0.9"/>
<rect x="569.1" y="297.0" width="2.8" height="2.0" fill="#000"/>
<line x1="573.5" y1="295.0" x2="573.5" y2="307.0" stroke="#4a4a4a" stroke-width="0.9"/>
<rect x="572.1" y="299.0" width="2.8" height="6.0" fill="#000"/>
<line x1="576.5" y1="289.0" x2="576.5" y2="306.0" stroke="#4a4a4a" stroke-width="0.9"/>
<rect x="575.3" y="295.3" width="2.4" height="7.4" fill="#ececec" stroke="#222" stroke-width="0.7"/>
<line x1="579.5" y1="286.0" x2="579.5" y2="302.0" stroke="#4a4a4a" stroke-width="0.9"/>
<rect x="578.3" y="288.3" width="2.4" height="11.4" fill="#ececec" stroke="#222" stroke-width="0.7"/>
<line x1="582.5" y1="283.0" x2="582.5" y2="296.0" stroke="#4a4a4a" stroke-width="0.9"/>
<rect x="581.3" y="286.3" width="2.4" height="8.4" fill="#ececec" stroke="#222" stroke-width="0.7"/>
<line x1="586.5" y1="270.0" x2="586.5" y2="297.0" stroke="#4a4a4a" stroke-width="0.9"/>
<rect x="585.3" y="275.3" width="2.4" height="19.4" fill="#ececec" stroke="#222" stroke-width="0.7"/>
<line x1="589.5" y1="281.0" x2="589.5" y2="291.0" stroke="#4a4a4a" stroke-width="0.9"/>
<rect x="588.1" y="287.0" width="2.8" height="2.0" fill="#000"/>
<line x1="592.5" y1="278.0" x2="592.5" y2="293.0" stroke="#4a4a4a" stroke-width="0.9"/>
<rect x="591.3" y="285.3" width="2.4" height="5.4" fill="#ececec" stroke="#222" stroke-width="0.7"/>
<line x1="595.5" y1="285.0" x2="595.5" y2="299.0" stroke="#4a4a4a" stroke-width="0.9"/>
<rect x="594.3" y="289.3" width="2.4" height="7.4" fill="#ececec" stroke="#222" stroke-width="0.7"/>
<line x1="598.5" y1="285.0" x2="598.5" y2="293.0" stroke="#4a4a4a" stroke-width="0.9"/>
<rect x="597.1" y="290.0" width="2.8" height="2.0" fill="#000"/>
<line x1="602.5" y1="279.0" x2="602.5" y2="297.0" stroke="#4a4a4a" stroke-width="0.9"/>
<rect x="601.3" y="283.3" width="2.4" height="12.4" fill="#ececec" stroke="#222" stroke-width="0.7"/>
<line x1="605.5" y1="281.0" x2="605.5" y2="292.0" stroke="#4a4a4a" stroke-width="0.9"/>
<rect x="604.1" y="286.0" width="2.8" height="4.0" fill="#000"/>
<line x1="608.5" y1="282.0" x2="608.5" y2="304.0" stroke="#4a4a4a" stroke-width="0.9"/>
<rect x="607.1" y="290.0" width="2.8" height="12.0" fill="#000"/>
<line x1="611.5" y1="284.0" x2="611.5" y2="302.0" stroke="#4a4a4a" stroke-width="0.9"/>
<rect x="610.3" y="287.3" width="2.4" height="12.4" fill="#ececec" stroke="#222" stroke-width="0.7"/>
<line x1="615.5" y1="286.0" x2="615.5" y2="305.0" stroke="#4a4a4a" stroke-width="0.9"/>
<rect x="614.1" y="290.0" width="2.8" height="13.0" fill="#000"/>
<line x1="618.5" y1="292.0" x2="618.5" y2="305.0" stroke="#4a4a4a" stroke-width="0.9"/>
<rect x="617.3" y="294.3" width="2.4" height="7.4" fill="#ececec" stroke="#222" stroke-width="0.7"/>
<line x1="621.5" y1="287.0" x2="621.5" y2="306.0" stroke="#4a4a4a" stroke-width="0.9"/>
<rect x="620.3" y="294.3" width="2.4" height="10.4" fill="#ececec" stroke="#222" stroke-width="0.7"/>
<line x1="624.5" y1="303.0" x2="624.5" y2="326.0" stroke="#4a4a4a" stroke-width="0.9"/>
<rect x="623.1" y="305.0" width="2.8" height="4.0" fill="#000"/>
<line x1="627.5" y1="306.0" x2="627.5" y2="319.0" stroke="#4a4a4a" stroke-width="0.9"/>
<rect x="626.3" y="310.3" width="2.4" height="7.4" fill="#ececec" stroke="#222" stroke-width="0.7"/>
<line x1="631.5" y1="308.0" x2="631.5" y2="318.0" stroke="#4a4a4a" stroke-width="0.9"/>
<rect x="630.1" y="311.0" width="2.8" height="4.0" fill="#000"/>
<line x1="634.5" y1="308.0" x2="634.5" y2="319.0" stroke="#4a4a4a" stroke-width="0.9"/>
<rect x="633.1" y="309.0" width="2.8" height="8.0" fill="#000"/>
<line x1="637.5" y1="314.0" x2="637.5" y2="325.0" stroke="#4a4a4a" stroke-width="0.9"/>
<rect x="636.1" y="317.0" width="2.8" height="7.0" fill="#000"/>
<line x1="640.5" y1="317.0" x2="640.5" y2="324.0" stroke="#4a4a4a" stroke-width="0.9"/>
<rect x="639.3" y="320.3" width="2.4" height="2.4" fill="#ececec" stroke="#222" stroke-width="0.7"/>
<line x1="643.5" y1="316.0" x2="643.5" y2="324.0" stroke="#4a4a4a" stroke-width="0.9"/>
<rect x="642.3" y="321.3" width="2.4" height="1.4" fill="#ececec" stroke="#222" stroke-width="0.7"/>
<line x1="647.5" y1="319.0" x2="647.5" y2="344.0" stroke="#4a4a4a" stroke-width="0.9"/>
<rect x="646.1" y="320.0" width="2.8" height="20.0" fill="#000"/>
<line x1="650.5" y1="331.0" x2="650.5" y2="348.0" stroke="#4a4a4a" stroke-width="0.9"/>
<rect x="649.3" y="334.3" width="2.4" height="4.4" fill="#ececec" stroke="#222" stroke-width="0.7"/>
<line x1="653.5" y1="334.0" x2="653.5" y2="339.0" stroke="#4a4a4a" stroke-width="0.9"/>
<rect x="652.1" y="335.0" width="2.8" height="2.0" fill="#000"/>
<line x1="656.5" y1="325.0" x2="656.5" y2="340.0" stroke="#4a4a4a" stroke-width="0.9"/>
<rect x="655.3" y="327.3" width="2.4" height="11.4" fill="#ececec" stroke="#222" stroke-width="0.7"/>
<line x1="659.5" y1="317.0" x2="659.5" y2="342.0" stroke="#4a4a4a" stroke-width="0.9"/>
<rect x="658.3" y="318.3" width="2.4" height="22.4" fill="#ececec" stroke="#222" stroke-width="0.7"/>
<line x1="663.5" y1="316.0" x2="663.5" y2="339.0" stroke="#4a4a4a" stroke-width="0.9"/>
<rect x="662.1" y="317.0" width="2.8" height="21.0" fill="#000"/>
<line x1="666.5" y1="327.0" x2="666.5" y2="345.0" stroke="#4a4a4a" stroke-width="0.9"/>
<rect x="665.3" y="330.3" width="2.4" height="7.4" fill="#ececec" stroke="#222" stroke-width="0.7"/>
<line x1="669.5" y1="322.0" x2="669.5" y2="334.0" stroke="#4a4a4a" stroke-width="0.9"/>
<rect x="668.3" y="325.3" width="2.4" height="6.4" fill="#ececec" stroke="#222" stroke-width="0.7"/>
<line x1="672.5" y1="319.0" x2="672.5" y2="332.0" stroke="#4a4a4a" stroke-width="0.9"/>
<rect x="671.3" y="322.3" width="2.4" height="5.4" fill="#ececec" stroke="#222" stroke-width="0.7"/>
<line x1="676.5" y1="317.0" x2="676.5" y2="330.0" stroke="#4a4a4a" stroke-width="0.9"/>
<rect x="675.3" y="322.3" width="2.4" height="4.4" fill="#ececec" stroke="#222" stroke-width="0.7"/>
<line x1="679.5" y1="319.0" x2="679.5" y2="345.0" stroke="#4a4a4a" stroke-width="0.9"/>
<rect x="678.1" y="322.0" width="2.8" height="22.0" fill="#000"/>
<line x1="682.5" y1="341.0" x2="682.5" y2="358.0" stroke="#4a4a4a" stroke-width="0.9"/>
<rect x="681.1" y="345.0" width="2.8" height="12.0" fill="#000"/>
<line x1="685.5" y1="354.0" x2="685.5" y2="363.0" stroke="#4a4a4a" stroke-width="0.9"/>
<rect x="684.1" y="358.0" width="2.8" height="4.0" fill="#000"/>
<line x1="688.5" y1="357.0" x2="688.5" y2="388.0" stroke="#4a4a4a" stroke-width="0.9"/>
<rect x="687.3" y="361.3" width="2.4" height="4.4" fill="#ececec" stroke="#222" stroke-width="0.7"/>
<line x1="692.5" y1="352.0" x2="692.5" y2="367.0" stroke="#4a4a4a" stroke-width="0.9"/>
<rect x="691.3" y="357.3" width="2.4" height="7.4" fill="#ececec" stroke="#222" stroke-width="0.7"/>
<line x1="695.5" y1="344.0" x2="695.5" y2="360.0" stroke="#4a4a4a" stroke-width="0.9"/>
<rect x="694.3" y="348.3" width="2.4" height="9.4" fill="#ececec" stroke="#222" stroke-width="0.7"/>
<line x1="698.5" y1="336.0" x2="698.5" y2="352.0" stroke="#4a4a4a" stroke-width="0.9"/>
<rect x="697.3" y="343.3" width="2.4" height="6.4" fill="#ececec" stroke="#222" stroke-width="0.7"/>
<line x1="701.5" y1="329.0" x2="701.5" y2="347.0" stroke="#4a4a4a" stroke-width="0.9"/>
<rect x="700.3" y="338.3" width="2.4" height="7.4" fill="#ececec" stroke="#222" stroke-width="0.7"/>
<line x1="704.5" y1="329.0" x2="704.5" y2="345.0" stroke="#4a4a4a" stroke-width="0.9"/>
<rect x="703.3" y="334.3" width="2.4" height="8.4" fill="#ececec" stroke="#222" stroke-width="0.7"/>
<path d="M104.5,90.0 L107.5,93.5 L105.5,93.5 L105.5,96.5 L103.5,96.5 L103.5,93.5 L101.5,93.5 Z" fill="#1a9a2a"/>
<path d="M168.6,87.5 L171.6,91 L169.6,91 L169.6,94 L167.6,94 L167.6,91 L165.6,91 Z" fill="#1a9a2a"/>
<path d="M460.6,264.5 L463.6,268 L461.6,268 L461.6,271 L459.6,271 L459.6,268 L457.6,268 Z" fill="#1a9a2a"/>
<path d="M473.5,235.5 L476.5,239 L474.5,239 L474.5,242 L472.5,242 L472.5,239 L470.5,239 Z" fill="#1a9a2a"/>
<path d="M169.7,121 L173.7,125 M173.7,121 L169.7,125 M171.7,119 L171.7,126" stroke="#c01010" stroke-width="1.1" fill="none"/>
<path d="M185.8,259 L189.8,263 M189.8,259 L185.8,263 M187.8,257 L187.8,264" stroke="#c01010" stroke-width="1.1" fill="none"/>
<path d="M330.4,196.6 L334.4,200.6 M334.4,196.6 L330.4,200.6 M332.4,194.6 L332.4,201.6" stroke="#c01010" stroke-width="1.1" fill="none"/>
<path d="M340,210 L344,214 M344,210 L340,214 M342,208 L342,215" stroke="#c01010" stroke-width="1.1" fill="none"/>
<path d="M375,253 L379,257 M379,253 L375,257 M377,251 L377,258" stroke="#c01010" stroke-width="1.1" fill="none"/>
<path d="M468,239 L472,243 M472,239 L468,243 M470,237 L470,244" stroke="#c01010" stroke-width="1.1" fill="none"/>
<path d="M548.5,280 L552.5,284 M552.5,280 L548.5,284 M550.5,278 L550.5,285" stroke="#c01010" stroke-width="1.1" fill="none"/>
<path d="M619,304 L623,308 M623,304 L619,308 M621,302 L621,309" stroke="#c01010" stroke-width="1.1" fill="none"/>
<path d="M635,316 L639,320 M639,316 L635,320 M637,314 L637,321" stroke="#c01010" stroke-width="1.1" fill="none"/>
<path d="M645,331 L649,335 M649,331 L645,335 M647,329 L647,336" stroke="#c01010" stroke-width="1.1" fill="none"/>
<path d="M680,346 L684,350 M684,346 L680,350 M682,344 L682,351" stroke="#c01010" stroke-width="1.1" fill="none"/>
<circle cx="189.7" cy="307.5" r="21" fill="rgba(240,40,40,0.15)" stroke="#f01010" stroke-width="1.3"/>
<circle cx="454" cy="312" r="23" fill="rgba(240,40,40,0.15)" stroke="#f01010" stroke-width="1.3"/>
<circle cx="692.2" cy="370.4" r="17.6" fill="rgba(240,40,40,0.15)" stroke="#f01010" stroke-width="1.3"/>
<line x1="0" y1="315" x2="992.4" y2="315" stroke="#f00" stroke-width="2"/>
<line x1="0" y1="375.8" x2="992.4" y2="375.8" stroke="#f00" stroke-width="2"/>
<line x1="291.5" y1="157.7" x2="992" y2="404.5" stroke="#1010f0" stroke-width="2.2"/>
<line x1="291.5" y1="248.8" x2="780" y2="420.9" stroke="#1010f0" stroke-width="2.2"/>
<line x1="477.2" y1="222.8" x2="786.2" y2="357.2" stroke="#30309a" stroke-width="2"/>
<line x1="477.2" y1="276.0" x2="786.2" y2="410.4" stroke="#30309a" stroke-width="2"/>
<line x1="705.2" y1="332.8" x2="711.5" y2="320.5" stroke="#000" stroke-width="0.9"/>
<path d="M715.3,314.4 L709.6,320.2 L714.9,322.2 Z" fill="#000"/>
</g>
<text x="107.9" y="34.4" text-anchor="middle" dominant-baseline="central" style="font-family:&quot;Liberation Sans&quot;,sans-serif;font-size:10.5px" fill="#000" stroke="#000" stroke-width="0.15">(B)</text>
<text x="107.4" y="46.2" text-anchor="middle" dominant-baseline="central" style="font-family:&quot;Liberation Sans&quot;,sans-serif;font-size:10.5px" fill="#000" stroke="#000" stroke-width="0.15">C</text>
<text x="168.7" y="63.6" text-anchor="middle" dominant-baseline="central" style="font-family:&quot;Liberation Sans&quot;,sans-serif;font-size:10.5px" fill="#000" stroke="#000" stroke-width="0.15">2</text>
<text x="117.5" y="138.4" text-anchor="middle" dominant-baseline="central" style="font-family:&quot;Liberation Sans&quot;,sans-serif;font-size:10.5px" fill="#000" stroke="#000" stroke-width="0.15">1</text>
<text x="191.3" y="325" text-anchor="middle" dominant-baseline="central" style="font-family:&quot;Liberation Sans&quot;,sans-serif;font-size:10.5px" fill="#000" stroke="#000" stroke-width="0.15">3</text>
<text x="476.7" y="206.4" text-anchor="middle" dominant-baseline="central" style="font-family:&quot;Liberation Sans&quot;,sans-serif;font-size:10.5px" fill="#000" stroke="#000" stroke-width="0.15">4</text>
<text x="688.8" y="405.4" text-anchor="middle" dominant-baseline="central" style="font-family:&quot;Liberation Sans&quot;,sans-serif;font-size:10.5px" fill="#000" stroke="#000" stroke-width="0.15">5</text>
<text x="765" y="297" text-anchor="middle" dominant-baseline="central" style="font-family:&quot;Liberation Sans&quot;,sans-serif;font-size:10.5px" fill="#000" stroke="#000" stroke-width="0.15">1</text>
<text x="14.4" y="121.9" text-anchor="middle" dominant-baseline="central" style="font-family:&quot;Liberation Serif&quot;,serif;font-size:9.6px" fill="#000" stroke="#000" stroke-width="0.2">(a)</text>
<text x="24.4" y="153.9" text-anchor="middle" dominant-baseline="central" style="font-family:&quot;Liberation Serif&quot;,serif;font-size:9.6px" fill="#000" stroke="#000" stroke-width="0.2">(b)</text>
<text x="33.8" y="114.8" text-anchor="middle" dominant-baseline="central" style="font-family:&quot;Liberation Serif&quot;,serif;font-size:9.6px" fill="#000" stroke="#000" stroke-width="0.2">(c)</text>
<text x="59.1" y="97.6" text-anchor="middle" dominant-baseline="central" style="font-family:&quot;Liberation Serif&quot;,serif;font-size:9.6px" fill="#000" stroke="#000" stroke-width="0.2">(a)</text>
<text x="72.3" y="92.1" text-anchor="middle" dominant-baseline="central" style="font-family:&quot;Liberation Serif&quot;,serif;font-size:9.6px" fill="#000" stroke="#000" stroke-width="0.2">(c)</text>
<text x="66.2" y="137.8" text-anchor="middle" dominant-baseline="central" style="font-family:&quot;Liberation Serif&quot;,serif;font-size:9.6px" fill="#000" stroke="#000" stroke-width="0.2">(b)</text>
<text x="97.7" y="88.9" text-anchor="middle" dominant-baseline="central" style="font-family:&quot;Liberation Serif&quot;,serif;font-size:9.6px" fill="#000" stroke="#000" stroke-width="0.2">(a)</text>
<text x="101" y="137.1" text-anchor="middle" dominant-baseline="central" style="font-family:&quot;Liberation Serif&quot;,serif;font-size:9.6px" fill="#000" stroke="#000" stroke-width="0.2">(b)</text>
<text x="107.4" y="70.3" text-anchor="middle" dominant-baseline="central" style="font-family:&quot;Liberation Serif&quot;,serif;font-size:9.6px" fill="#000" stroke="#000" stroke-width="0.2">(c)</text>
<text x="226" y="183.1" text-anchor="middle" dominant-baseline="central" style="font-family:&quot;Liberation Serif&quot;,serif;font-size:9.6px" fill="#000" stroke="#000" stroke-width="0.2">(a)</text>
<text x="245.6" y="244.1" text-anchor="middle" dominant-baseline="central" style="font-family:&quot;Liberation Serif&quot;,serif;font-size:9.6px" fill="#000" stroke="#000" stroke-width="0.2">(b)</text>
<text x="293.7" y="151.1" text-anchor="middle" dominant-baseline="central" style="font-family:&quot;Liberation Serif&quot;,serif;font-size:9.6px" fill="#000" stroke="#000" stroke-width="0.2">(c)</text>
<text x="345" y="237.8" text-anchor="middle" dominant-baseline="central" style="font-family:&quot;Liberation Serif&quot;,serif;font-size:9.6px" fill="#000" stroke="#000" stroke-width="0.2">(a)</text>
<text x="358" y="196.5" text-anchor="middle" dominant-baseline="central" style="font-family:&quot;Liberation Serif&quot;,serif;font-size:9.6px" fill="#000" stroke="#000" stroke-width="0.2">(b)</text>
<text x="450.5" y="310.9" text-anchor="middle" dominant-baseline="central" style="font-family:&quot;Liberation Serif&quot;,serif;font-size:9.6px" fill="#000" stroke="#000" stroke-width="0.2">(c)</text>
<text x="492.7" y="273.6" text-anchor="middle" dominant-baseline="central" style="font-family:&quot;Liberation Serif&quot;,serif;font-size:9.6px" fill="#000" stroke="#000" stroke-width="0.2">(i)</text>
<text x="502.3" y="243.1" text-anchor="middle" dominant-baseline="central" style="font-family:&quot;Liberation Serif&quot;,serif;font-size:9.6px" fill="#000" stroke="#000" stroke-width="0.2">(ii)</text>
<text x="558" y="270.1" text-anchor="middle" dominant-baseline="central" style="font-family:&quot;Liberation Serif&quot;,serif;font-size:9.6px" fill="#000" stroke="#000" stroke-width="0.2">(iv)</text>
<text x="553" y="297.8" text-anchor="middle" dominant-baseline="central" style="font-family:&quot;Liberation Serif&quot;,serif;font-size:9.6px" fill="#000" stroke="#000" stroke-width="0.2">(iii)</text>
<text x="577" y="314.1" text-anchor="middle" dominant-baseline="central" style="font-family:&quot;Liberation Serif&quot;,serif;font-size:9.6px" fill="#000" stroke="#000" stroke-width="0.2">(v)</text>
<text x="595.8" y="304.1" text-anchor="middle" dominant-baseline="central" style="font-family:&quot;Liberation Serif&quot;,serif;font-size:9.6px" fill="#000" stroke="#000" stroke-width="0.2">(i)</text>
<text x="624" y="332.8" text-anchor="middle" dominant-baseline="central" style="font-family:&quot;Liberation Serif&quot;,serif;font-size:9.6px" fill="#000" stroke="#000" stroke-width="0.2">(iii)</text>
<text x="637" y="300.1" text-anchor="middle" dominant-baseline="central" style="font-family:&quot;Liberation Serif&quot;,serif;font-size:9.6px" fill="#000" stroke="#000" stroke-width="0.2">(iv)</text>
<text x="649.7" y="354.9" text-anchor="middle" dominant-baseline="central" style="font-family:&quot;Liberation Serif&quot;,serif;font-size:9.6px" fill="#000" stroke="#000" stroke-width="0.2">(v)</text>
<circle cx="107.4" cy="58.9" r="5.3" fill="#fff" stroke="#222" stroke-width="0.7"/>
<text x="107.4" y="58.3" text-anchor="middle" dominant-baseline="central" style="font-family:&quot;Liberation Serif&quot;,serif;font-size:9.2px" fill="#000" stroke="#000" stroke-width="0.15">v</text>
<circle cx="126.8" cy="80" r="5.3" fill="#fff" stroke="#222" stroke-width="0.7"/>
<text x="126.8" y="79.4" text-anchor="middle" dominant-baseline="central" style="font-family:&quot;Liberation Serif&quot;,serif;font-size:9.2px" fill="#000" stroke="#000" stroke-width="0.15">a</text>
<circle cx="168.2" cy="76.3" r="5.3" fill="#fff" stroke="#222" stroke-width="0.7"/>
<text x="168.2" y="75.7" text-anchor="middle" dominant-baseline="central" style="font-family:&quot;Liberation Serif&quot;,serif;font-size:9.2px" fill="#000" stroke="#000" stroke-width="0.15">c</text>
<circle cx="33.8" cy="103" r="5.3" fill="#fff" stroke="#222" stroke-width="0.7"/>
<text x="33.8" y="102.4" text-anchor="middle" dominant-baseline="central" style="font-family:&quot;Liberation Serif&quot;,serif;font-size:9.2px" fill="#000" stroke="#000" stroke-width="0.15">i</text>
<circle cx="72.6" cy="80.3" r="5.3" fill="#fff" stroke="#222" stroke-width="0.7"/>
<text x="72.6" y="79.7" text-anchor="middle" dominant-baseline="central" style="font-family:&quot;Liberation Serif&quot;,serif;font-size:8.4px" fill="#000" stroke="#000" stroke-width="0.15">iii</text>
<circle cx="43.4" cy="166.8" r="5.3" fill="#fff" stroke="#222" stroke-width="0.7"/>
<text x="43.4" y="166.2" text-anchor="middle" dominant-baseline="central" style="font-family:&quot;Liberation Serif&quot;,serif;font-size:8.4px" fill="#000" stroke="#000" stroke-width="0.15">ii</text>
<circle cx="85.2" cy="141.5" r="5.3" fill="#fff" stroke="#222" stroke-width="0.7"/>
<text x="85.2" y="140.9" text-anchor="middle" dominant-baseline="central" style="font-family:&quot;Liberation Serif&quot;,serif;font-size:8.4px" fill="#000" stroke="#000" stroke-width="0.15">iv</text>
<circle cx="136.5" cy="121" r="5.3" fill="#fff" stroke="#222" stroke-width="0.7"/>
<text x="136.5" y="120.4" text-anchor="middle" dominant-baseline="central" style="font-family:&quot;Liberation Serif&quot;,serif;font-size:9.2px" fill="#000" stroke="#000" stroke-width="0.15">b</text>
<circle cx="293.6" cy="139.6" r="5.3" fill="#fff" stroke="#222" stroke-width="0.7"/>
<text x="293.6" y="139.0" text-anchor="middle" dominant-baseline="central" style="font-family:&quot;Liberation Serif&quot;,serif;font-size:9.2px" fill="#000" stroke="#000" stroke-width="0.15">a</text>
<circle cx="476.7" cy="218.4" r="5.3" fill="#fff" stroke="#222" stroke-width="0.7"/>
<text x="476.7" y="217.8" text-anchor="middle" dominant-baseline="central" style="font-family:&quot;Liberation Serif&quot;,serif;font-size:9.2px" fill="#000" stroke="#000" stroke-width="0.15">c</text>
<circle cx="450.5" cy="323.2" r="5.3" fill="#fff" stroke="#222" stroke-width="0.7"/>
<text x="450.5" y="322.6" text-anchor="middle" dominant-baseline="central" style="font-family:&quot;Liberation Serif&quot;,serif;font-size:9.2px" fill="#000" stroke="#000" stroke-width="0.15">b</text>
<circle cx="585" cy="266.7" r="5.3" fill="#fff" stroke="#222" stroke-width="0.7"/>
<text x="585" y="266.1" text-anchor="middle" dominant-baseline="central" style="font-family:&quot;Liberation Serif&quot;,serif;font-size:8.4px" fill="#000" stroke="#000" stroke-width="0.15">iii</text>
<circle cx="601" cy="272" r="5.3" fill="#fff" stroke="#222" stroke-width="0.7"/>
<text x="601" y="271.4" text-anchor="middle" dominant-baseline="central" style="font-family:&quot;Liberation Serif&quot;,serif;font-size:8.4px" fill="#000" stroke="#000" stroke-width="0.15">ii</text>
<circle cx="576" cy="326" r="5.3" fill="#fff" stroke="#222" stroke-width="0.7"/>
<text x="576" y="325.4" text-anchor="middle" dominant-baseline="central" style="font-family:&quot;Liberation Serif&quot;,serif;font-size:9.2px" fill="#000" stroke="#000" stroke-width="0.15">i</text>
<circle cx="662" cy="308.7" r="5.3" fill="#fff" stroke="#222" stroke-width="0.7"/>
<text x="662" y="308.1" text-anchor="middle" dominant-baseline="central" style="font-family:&quot;Liberation Serif&quot;,serif;font-size:8.4px" fill="#000" stroke="#000" stroke-width="0.15">iv</text>
<circle cx="650.3" cy="366.7" r="5.3" fill="#fff" stroke="#222" stroke-width="0.7"/>
<text x="650.3" y="366.1" text-anchor="middle" dominant-baseline="central" style="font-family:&quot;Liberation Serif&quot;,serif;font-size:8.4px" fill="#000" stroke="#000" stroke-width="0.15">iii</text>
<circle cx="688.3" cy="393" r="5.3" fill="#fff" stroke="#222" stroke-width="0.7"/>
<text x="688.3" y="392.4" text-anchor="middle" dominant-baseline="central" style="font-family:&quot;Liberation Serif&quot;,serif;font-size:9.2px" fill="#000" stroke="#000" stroke-width="0.15">v</text>
<rect x="758" y="343.2" width="126" height="44.6" fill="#27b04b"/>
<path d="M774.6,355.2 L784,364.8 L779,364.8 L779,376.3 L770.8,376.3 L770.8,364.8 L765.3,364.8 Z" fill="#fff"/>
<text x="797.2" y="374" style="font-family:&quot;Liberation Sans&quot;,sans-serif;font-size:22.6px;font-weight:bold" fill="#fff">LONG</text>
<rect x="926" y="0" width="64" height="64.5" fill="#ee2a2e"/>
<text x="936" y="34.2" textLength="45" lengthAdjust="spacingAndGlyphs" style="font-family:&quot;Liberation Serif&quot;,serif;font-size:18px;font-weight:bold" fill="#fff">FxPro</text>
<text x="936" y="42.6" textLength="45" lengthAdjust="spacingAndGlyphs" style="font-family:&quot;Liberation Sans&quot;,sans-serif;font-size:5.9px" fill="#fff">Trade Like a Pro</text>
<text x="4.6" y="9" style="font-family:&quot;Liberation Sans&quot;,sans-serif;font-size:7px;font-weight:bold" fill="#222">GBPCHF - 1 day</text>
<text x="35" y="18.2" style="font-family:&quot;Liberation Sans&quot;,sans-serif;font-size:6.2px" fill="#ff2222">0,2.0)</text>
<line x1="995.5" y1="0" x2="995.5" y2="416" stroke="#000" stroke-width="1"/>
<path d="M992,2.04H995.5 M992,5.45H995.5 M992,8.86H995.5 M992,12.27H995.5 M992,15.68H995.5 M992,19.09H995.5 M990.5,22.50H995.5 M992,25.91H995.5 M992,29.32H995.5 M992,32.73H995.5 M992,36.14H995.5 M992,39.55H995.5 M992,42.96H995.5 M992,46.38H995.5 M990.5,49.79H995.5 M992,53.20H995.5 M992,56.61H995.5 M992,60.02H995.5 M992,63.43H995.5 M992,66.84H995.5 M992,70.25H995.5 M992,73.66H995.5 M990.5,77.07H995.5 M992,80.48H995.5 M992,83.89H995.5 M992,87.30H995.5 M992,90.72H995.5 M992,94.13H995.5 M992,97.54H995.5 M992,100.95H995.5 M990.5,104.36H995.5 M992,107.77H995.5 M992,111.18H995.5 M992,114.59H995.5 M992,118.00H995.5 M992,121.41H995.5 M992,124.82H995.5 M992,128.23H995.5 M990.5,131.64H995.5 M992,135.05H995.5 M992,138.47H995.5 M992,141.88H995.5 M992,145.29H995.5 M992,148.70H995.5 M992,152.11H995.5 M992,155.52H995.5 M990.5,158.93H995.5 M992,162.34H995.5 M992,165.75H995.5 M992,169.16H995.5 M992,172.57H995.5 M992,175.98H995.5 M992,179.39H995.5 M992,182.81H995.5 M990.5,186.22H995.5 M992,189.63H995.5 M992,193.04H995.5 M992,196.45H995.5 M992,199.86H995.5 M992,203.27H995.5 M992,206.68H995.5 M992,210.09H995.5 M990.5,213.50H995.5 M992,216.91H995.5 M992,220.32H995.5 M992,223.73H995.5 M992,227.15H995.5 M992,230.56H995.5 M992,233.97H995.5 M992,237.38H995.5 M990.5,240.79H995.5 M992,244.20H995.5 M992,247.61H995.5 M992,251.02H995.5 M992,254.43H995.5 M992,257.84H995.5 M992,261.25H995.5 M992,264.66H995.5 M990.5,268.07H995.5 M992,271.48H995.5 M992,274.90H995.5 M992,278.31H995.5 M992,281.72H995.5 M992,285.13H995.5 M992,288.54H995.5 M992,291.95H995.5 M990.5,295.36H995.5 M992,298.77H995.5 M992,302.18H995.5 M992,305.59H995.5 M992,309.00H995.5 M992,312.41H995.5 M992,315.82H995.5 M992,319.24H995.5 M990.5,322.65H995.5 M992,326.06H995.5 M992,329.47H995.5 M992,332.88H995.5 M992,336.29H995.5 M992,339.70H995.5 M992,343.11H995.5 M992,346.52H995.5 M990.5,349.93H995.5 M992,353.34H995.5 M992,356.75H995.5 M992,360.16H995.5 M992,363.58H995.5 M992,366.99H995.5 M992,370.40H995.5 M992,373.81H995.5 M990.5,377.22H995.5 M992,380.63H995.5 M992,384.04H995.5 M992,387.45H995.5 M992,390.86H995.5 M992,394.27H995.5 M992,397.68H995.5 M992,401.09H995.5 M990.5,404.50H995.5 M992,407.91H995.5 M992,411.33H995.5" stroke="#222" stroke-width="0.8" fill="none"/>
<text x="997" y="22.5" dominant-baseline="central" style="font-family:&quot;Liberation Sans&quot;,sans-serif;font-size:6.6px" fill="#111">1.17000</text>
<text x="997" y="49.8" dominant-baseline="central" style="font-family:&quot;Liberation Sans&quot;,sans-serif;font-size:6.6px" fill="#111">1.16000</text>
<text x="997" y="77.1" dominant-baseline="central" style="font-family:&quot;Liberation Sans&quot;,sans-serif;font-size:6.6px" fill="#111">1.15000</text>
<text x="997" y="104.4" dominant-baseline="central" style="font-family:&quot;Liberation Sans&quot;,sans-serif;font-size:6.6px" fill="#111">1.14000</text>
<text x="997" y="131.6" dominant-baseline="central" style="font-family:&quot;Liberation Sans&quot;,sans-serif;font-size:6.6px" fill="#111">1.13000</text>
<text x="997" y="158.9" dominant-baseline="central" style="font-family:&quot;Liberation Sans&quot;,sans-serif;font-size:6.6px" fill="#111">1.12000</text>
<text x="997" y="186.2" dominant-baseline="central" style="font-family:&quot;Liberation Sans&quot;,sans-serif;font-size:6.6px" fill="#111">1.11000</text>
<text x="997" y="213.5" dominant-baseline="central" style="font-family:&quot;Liberation Sans&quot;,sans-serif;font-size:6.6px" fill="#111">1.10000</text>
<text x="997" y="240.8" dominant-baseline="central" style="font-family:&quot;Liberation Sans&quot;,sans-serif;font-size:6.6px" fill="#111">1.09000</text>
<text x="997" y="268.1" dominant-baseline="central" style="font-family:&quot;Liberation Sans&quot;,sans-serif;font-size:6.6px" fill="#111">1.08000</text>
<text x="997" y="295.4" dominant-baseline="central" style="font-family:&quot;Liberation Sans&quot;,sans-serif;font-size:6.6px" fill="#111">1.07000</text>
<text x="997" y="322.6" dominant-baseline="central" style="font-family:&quot;Liberation Sans&quot;,sans-serif;font-size:6.6px" fill="#111">1.06000</text>
<text x="997" y="349.9" dominant-baseline="central" style="font-family:&quot;Liberation Sans&quot;,sans-serif;font-size:6.6px" fill="#111">1.05000</text>
<text x="997" y="377.2" dominant-baseline="central" style="font-family:&quot;Liberation Sans&quot;,sans-serif;font-size:6.6px" fill="#111">1.04000</text>
<text x="997" y="404.5" dominant-baseline="central" style="font-family:&quot;Liberation Sans&quot;,sans-serif;font-size:6.6px" fill="#111">1.03000</text>
<line x1="995.5" y1="329.5" x2="1022" y2="329.5" stroke="#000" stroke-width="1"/>
<path d="M992.5,333.6 L995.5,329.85 L1022,329.85 L1022,337.35 L995.5,337.35 Z" fill="#fff" stroke="#000" stroke-width="0.8"/>
<text x="997" y="333.6" dominant-baseline="central" style="font-family:&quot;Liberation Sans&quot;,sans-serif;font-size:6.6px" fill="#222">1.05591</text>
<path d="M992.5,347.4 L995.5,343.65 L1022,343.65 L1022,351.15 L995.5,351.15 Z" fill="#f4c4c4" stroke="#e09090" stroke-width="0.8"/>
<text x="997" y="347.4" dominant-baseline="central" style="font-family:&quot;Liberation Sans&quot;,sans-serif;font-size:6.6px" fill="#222">1.05102</text>
<line x1="1" y1="413.5" x2="992" y2="413.5" stroke="#d4d4c4" stroke-width="1"/>
<line x1="1" y1="415.8" x2="995" y2="415.8" stroke="#999" stroke-width="1.3"/>
<text x="33.9" y="420.6" text-anchor="middle" dominant-baseline="central" style="font-family:&quot;Liberation Sans&quot;,sans-serif;font-size:6.5px" fill="#333">Feb-2025</text>
<line x1="33.5" y1="412" x2="33.5" y2="415" stroke="#555" stroke-width="1"/>
<line x1="33.5" y1="426" x2="33.5" y2="428" stroke="#555" stroke-width="1"/>
<text x="98.2" y="420.6" text-anchor="middle" dominant-baseline="central" style="font-family:&quot;Liberation Sans&quot;,sans-serif;font-size:6.5px" fill="#333">Mar-2025</text>
<line x1="98.5" y1="412" x2="98.5" y2="415" stroke="#555" stroke-width="1"/>
<line x1="98.5" y1="426" x2="98.5" y2="428" stroke="#555" stroke-width="1"/>
<text x="165.5" y="420.6" text-anchor="middle" dominant-baseline="central" style="font-family:&quot;Liberation Sans&quot;,sans-serif;font-size:6.5px" fill="#333">Apr-2025</text>
<line x1="165.5" y1="412" x2="165.5" y2="415" stroke="#555" stroke-width="1"/>
<line x1="165.5" y1="426" x2="165.5" y2="428" stroke="#555" stroke-width="1"/>
<text x="236.5" y="420.6" text-anchor="middle" dominant-baseline="central" style="font-family:&quot;Liberation Sans&quot;,sans-serif;font-size:6.5px" fill="#333">May-2025</text>
<line x1="236.5" y1="412" x2="236.5" y2="415" stroke="#555" stroke-width="1"/>
<line x1="236.5" y1="426" x2="236.5" y2="428" stroke="#555" stroke-width="1"/>
<text x="306.5" y="420.6" text-anchor="middle" dominant-baseline="central" style="font-family:&quot;Liberation Sans&quot;,sans-serif;font-size:6.5px" fill="#333">Jun-2025</text>
<line x1="306.5" y1="412" x2="306.5" y2="415" stroke="#555" stroke-width="1"/>
<line x1="306.5" y1="426" x2="306.5" y2="428" stroke="#555" stroke-width="1"/>
<text x="374.2" y="420.6" text-anchor="middle" dominant-baseline="central" style="font-family:&quot;Liberation Sans&quot;,sans-serif;font-size:6.5px" fill="#333">Jul-2025</text>
<line x1="374.5" y1="412" x2="374.5" y2="415" stroke="#555" stroke-width="1"/>
<line x1="374.5" y1="426" x2="374.5" y2="428" stroke="#555" stroke-width="1"/>
<text x="447.9" y="420.6" text-anchor="middle" dominant-baseline="central" style="font-family:&quot;Liberation Sans&quot;,sans-serif;font-size:6.5px" fill="#333">Aug-2025</text>
<line x1="447.5" y1="412" x2="447.5" y2="415" stroke="#555" stroke-width="1"/>
<line x1="447.5" y1="426" x2="447.5" y2="428" stroke="#555" stroke-width="1"/>
<text x="515.4" y="420.6" text-anchor="middle" dominant-baseline="central" style="font-family:&quot;Liberation Sans&quot;,sans-serif;font-size:6.5px" fill="#333">Sep-2025</text>
<line x1="515.5" y1="412" x2="515.5" y2="415" stroke="#555" stroke-width="1"/>
<line x1="515.5" y1="426" x2="515.5" y2="428" stroke="#555" stroke-width="1"/>
<text x="586" y="420.6" text-anchor="middle" dominant-baseline="central" style="font-family:&quot;Liberation Sans&quot;,sans-serif;font-size:6.5px" fill="#333">Oct-2025</text>
<line x1="586.5" y1="412" x2="586.5" y2="415" stroke="#555" stroke-width="1"/>
<line x1="586.5" y1="426" x2="586.5" y2="428" stroke="#555" stroke-width="1"/>
<text x="659.7" y="420.6" text-anchor="middle" dominant-baseline="central" style="font-family:&quot;Liberation Sans&quot;,sans-serif;font-size:6.5px" fill="#333">Nov-2025</text>
<line x1="659.5" y1="412" x2="659.5" y2="415" stroke="#555" stroke-width="1"/>
<line x1="659.5" y1="426" x2="659.5" y2="428" stroke="#555" stroke-width="1"/>
<text x="737" y="420.6" text-anchor="middle" dominant-baseline="central" style="font-family:&quot;Liberation Sans&quot;,sans-serif;font-size:6.5px" fill="#333">Dec-2025</text>
<line x1="737.5" y1="412" x2="737.5" y2="415" stroke="#555" stroke-width="1"/>
<line x1="737.5" y1="426" x2="737.5" y2="428" stroke="#555" stroke-width="1"/>
<text x="768.9" y="420.6" text-anchor="middle" dominant-baseline="central" style="font-family:&quot;Liberation Sans&quot;,sans-serif;font-size:6.5px" fill="#333">Dec-11</text>
<line x1="768.5" y1="412" x2="768.5" y2="415" stroke="#555" stroke-width="1"/>
<text x="836.3" y="420.6" text-anchor="middle" dominant-baseline="central" style="font-family:&quot;Liberation Sans&quot;,sans-serif;font-size:6.5px" fill="#333">Jan-2026</text>
<line x1="836.5" y1="412" x2="836.5" y2="415" stroke="#555" stroke-width="1"/>
<line x1="836.5" y1="426" x2="836.5" y2="428" stroke="#555" stroke-width="1"/>
<text x="868.2" y="420.6" text-anchor="middle" dominant-baseline="central" style="font-family:&quot;Liberation Sans&quot;,sans-serif;font-size:6.5px" fill="#333">Jan-11</text>
<line x1="868.5" y1="412" x2="868.5" y2="415" stroke="#555" stroke-width="1"/>
<text x="936.2" y="420.6" text-anchor="middle" dominant-baseline="central" style="font-family:&quot;Liberation Sans&quot;,sans-serif;font-size:6.5px" fill="#333">Feb-2026</text>
<line x1="936.5" y1="412" x2="936.5" y2="415" stroke="#555" stroke-width="1"/>
<line x1="936.5" y1="426" x2="936.5" y2="428" stroke="#555" stroke-width="1"/>
<text x="968.1" y="420.6" text-anchor="middle" dominant-baseline="central" style="font-family:&quot;Liberation Sans&quot;,sans-serif;font-size:6.5px" fill="#333">Feb-11</text>
<line x1="968.5" y1="412" x2="968.5" y2="415" stroke="#555" stroke-width="1"/>
<line x1="0" y1="425.5" x2="1024" y2="425.5" stroke="#555" stroke-width="1"/>
<line x1="1" y1="434.5" x2="993" y2="434.5" stroke="#555" stroke-width="1"/>
<line x1="1" y1="449.3" x2="993" y2="449.3" stroke="#555" stroke-width="1" stroke-dasharray="3,2"/>
<line x1="1" y1="464.4" x2="993" y2="464.4" stroke="#555" stroke-width="1"/>
<text x="4.2" y="432.6" dominant-baseline="central" style="font-family:&quot;Liberation Sans&quot;,sans-serif;font-size:6.6px;font-weight:bold" textLength="45.3" lengthAdjust="spacingAndGlyphs" fill="#111">STO Slow(14,3)</text>
<g clip-path="url(#cs)">
<polyline points="0.0,464.0 6.3,461.4 10.5,459.9 15.8,451.4 21.0,445.0 26.4,437.7 31.6,432.4 35.9,430.9 40.0,433.5 44.3,436.7 49.6,437.7 54.9,433.5 59.0,433.5 63.3,435.6 68.6,433.0 73.8,432.4 78.0,435.0 84.4,441.4 89.7,445.0 95.0,444.6 99.8,442.6 105.6,439.6 109.5,443.5 115.4,450.4 121.3,446.5 129.0,442.6 136.9,444.5 148.6,445.5 158.4,444.5 166.2,445.5 170.0,446.5 176.0,457.2 181.8,466.0 189.6,468.9 197.4,466.0 207.2,462.7 215.0,459.2 220.9,447.4 226.7,437.7 234.5,432.8 240.4,434.7 248.2,441.6 256.0,435.7 263.8,431.4 273.6,433.8 281.4,438.6 290.0,437.7 292.8,436.1 296.7,436.7 300.6,443.5 304.5,452.3 308.4,455.3 314.3,455.3 320.2,452.3 324.0,451.3 330.0,454.3 334.8,460.1 339.7,461.1 345.5,462.1 351.4,462.1 359.2,463.0 365.1,464.0 370.9,466.6 376.8,467.0 384.6,462.1 390.5,463.0 396.3,465.0 402.2,468.9 408.0,469.3 413.9,465.0 419.8,462.1 425.6,461.1 431.5,464.0 437.3,459.2 443.2,451.3 449.1,455.3 454.9,453.3 460.8,444.5 466.6,433.8 472.5,429.9 480.3,429.2 487.8,432.2 495.6,440.6 502.5,448.4 507.3,456.2 512.2,461.1 518.1,463.0 524.9,460.1 531.8,464.0 538.6,456.2 547.4,450.4 553.2,458.2 560.1,465.0 567.9,466.0 573.8,468.9 581.6,464.0 589.4,458.2 597.2,453.3 603.0,447.4 608.9,450.4 616.7,456.2 622.6,463.0 631.7,460.7 637.6,465.0 645.4,468.0 653.2,466.0 659.1,461.1 665.0,458.8 670.8,452.9 676.6,448.4 681.5,456.2 686.4,462.1 692.3,459.2 701.6,449.4" fill="none" stroke="#c03030" stroke-width="0.8"/>
<polyline points="0.0,463.6 4.7,460.4 8.4,461.0 11.6,457.8 14.8,446.0 21.0,440.9 25.3,434.5 30.6,432.0 33.8,428.2 38.0,431.4 43.2,438.2 46.4,437.7 49.6,439.8 52.7,433.0 55.9,429.3 59.0,431.9 62.8,438.2 65.4,435.6 69.6,431.4 73.8,432.4 76.0,433.5 80.2,438.8 85.4,445.0 90.7,446.2 93.9,445.5 98.8,441.6 101.7,442.6 104.6,434.7 107.6,441.6 114.4,455.6 119.3,446.5 123.2,444.5 127.1,440.6 130.0,441.2 135.9,445.5 139.8,444.5 145.7,446.5 149.6,445.5 152.5,447.4 156.4,443.5 161.3,444.5 165.2,447.0 168.5,439.2 172.0,454.3 176.9,463.0 181.8,470.5 184.7,464.0 190.6,469.9 197.4,464.0 202.3,465.0 207.2,462.1 212.0,461.1 217.0,455.3 222.8,437.7 229.6,431.4 235.5,432.8 238.4,434.7 243.3,441.6 246.3,441.6 249.2,444.1 254.0,436.7 259.0,431.4 264.8,429.9 274.6,433.8 281.4,441.2 285.3,438.6 289.9,437.7 293.8,434.2 297.7,436.7 300.6,447.4 303.6,456.2 306.5,461.1 309.4,454.3 313.3,456.2 318.2,453.3 323.1,449.4 326.0,452.3 330.0,454.3 332.9,464.0 338.7,457.6 342.6,464.0 347.5,463.0 352.4,460.7 357.3,464.0 362.1,462.7 367.0,465.0 370.9,468.0 376.8,468.0 381.7,464.0 386.6,460.1 390.5,463.0 393.4,466.0 397.3,464.0 402.2,469.9 405.1,470.9 410.0,468.0 412.9,463.0 418.8,459.2 422.7,462.1 426.6,460.1 429.5,461.5 432.5,466.0 436.4,461.1 441.3,445.9 445.2,450.4 449.1,459.2 453.0,454.3 456.9,450.4 459.8,442.6 463.7,432.8 467.6,428.3 470.5,430.3 473.5,428.3 478.4,428.9 481.3,428.9 483.9,429.9 486.8,432.8 489.8,439.6 494.6,442.6 499.5,446.5 503.4,450.4 506.4,458.2 509.3,463.0 512.2,464.0 515.2,461.1 518.1,464.0 524.9,459.2 528.8,462.1 531.8,468.0 534.7,462.1 538.6,453.3 546.4,449.0 550.3,460.1 555.2,462.1 560.1,467.0 565.9,465.4 569.8,466.6 573.4,470.5 577.7,465.0 581.6,462.1 585.5,456.2 590.3,455.3 595.2,451.3 599.1,451.3 602.7,444.5 605.0,445.5 608.9,455.3 612.8,452.3 616.7,460.1 621.6,467.4 624.5,462.1 627.5,463.0 631.4,460.1 633.7,461.5 637.6,466.0 641.5,467.4 646.4,469.3 651.3,466.6 655.2,465.0 660.0,456.2 664.0,460.1 668.8,452.3 672.7,446.5 675.7,444.5 678.6,453.3 682.5,462.1 685.4,467.0 690.3,460.1 696.2,452.3 701.6,446.5" fill="none" stroke="#111" stroke-width="1"/>
</g>
<rect x="990.5" y="426" width="4.5" height="46" fill="#e8e8e8"/>
<line x1="995.5" y1="426" x2="995.5" y2="472" stroke="#000" stroke-width="1"/>
<path d="M992.5,469.4H995.5 M992.5,464.4H995.5 M992.5,459.5H995.5 M992.5,454.5H995.5 M992.5,449.5H995.5 M992.5,444.5H995.5 M992.5,439.5H995.5 M992.5,434.6H995.5 M992.5,429.6H995.5" stroke="#222" stroke-width="0.8" fill="none"/>
<g clip-path="url(#cl)">
<path d="M992.5,464.4 L995.5,461.0 L1014.5,461.0 L1014.5,467.79999999999995 L995.5,467.79999999999995 Z" fill="#fff" stroke="#333" stroke-width="0.8"/>
<text x="997" y="464.4" dominant-baseline="central" style="font-family:&quot;Liberation Sans&quot;,sans-serif;font-size:6.6px" fill="#222">20.00</text>
<path d="M992.5,450 L995.5,446.6 L1014.5,446.6 L1014.5,453.4 L995.5,453.4 Z" fill="#fff" stroke="#333" stroke-width="0.8"/>
<text x="997" y="450" dominant-baseline="central" style="font-family:&quot;Liberation Sans&quot;,sans-serif;font-size:6.6px" fill="#222">50.00</text>
<path d="M992.5,434.3 L995.5,430.90000000000003 L1014.5,430.90000000000003 L1014.5,437.7 L995.5,437.7 Z" fill="#fff" stroke="#333" stroke-width="0.8"/>
<text x="997" y="434.3" dominant-baseline="central" style="font-family:&quot;Liberation Sans&quot;,sans-serif;font-size:6.6px" fill="#222">80.00</text>
<path d="M992.5,446.4 L995.5,443.0 L1014.5,443.0 L1014.5,449.79999999999995 L995.5,449.79999999999995 Z" fill="#fff" stroke="#333" stroke-width="0.8"/>
<text x="997" y="446.4" dominant-baseline="central" style="font-family:&quot;Liberation Sans&quot;,sans-serif;font-size:6.6px" fill="#222">55.99</text>
</g>
<line x1="0" y1="0.5" x2="1024" y2="0.5" stroke="#444" stroke-width="1"/>
<line x1="0.5" y1="0" x2="0.5" y2="474" stroke="#555" stroke-width="1"/>
<rect x="1022" y="0" width="2" height="474" fill="#1a1a1a"/>
<rect x="0" y="473" width="1024" height="1" fill="#555"/>
<rect x="0" y="251" width="1.6" height="13" fill="#111"/>
<rect x="0" y="295" width="1.2" height="2" fill="#d02020"/>
<rect x="0" y="341.5" width="1.2" height="2" fill="#d02020"/>
<rect x="0" y="361" width="1.2" height="1.5" fill="#222"/>
</svg>
</body></html>
